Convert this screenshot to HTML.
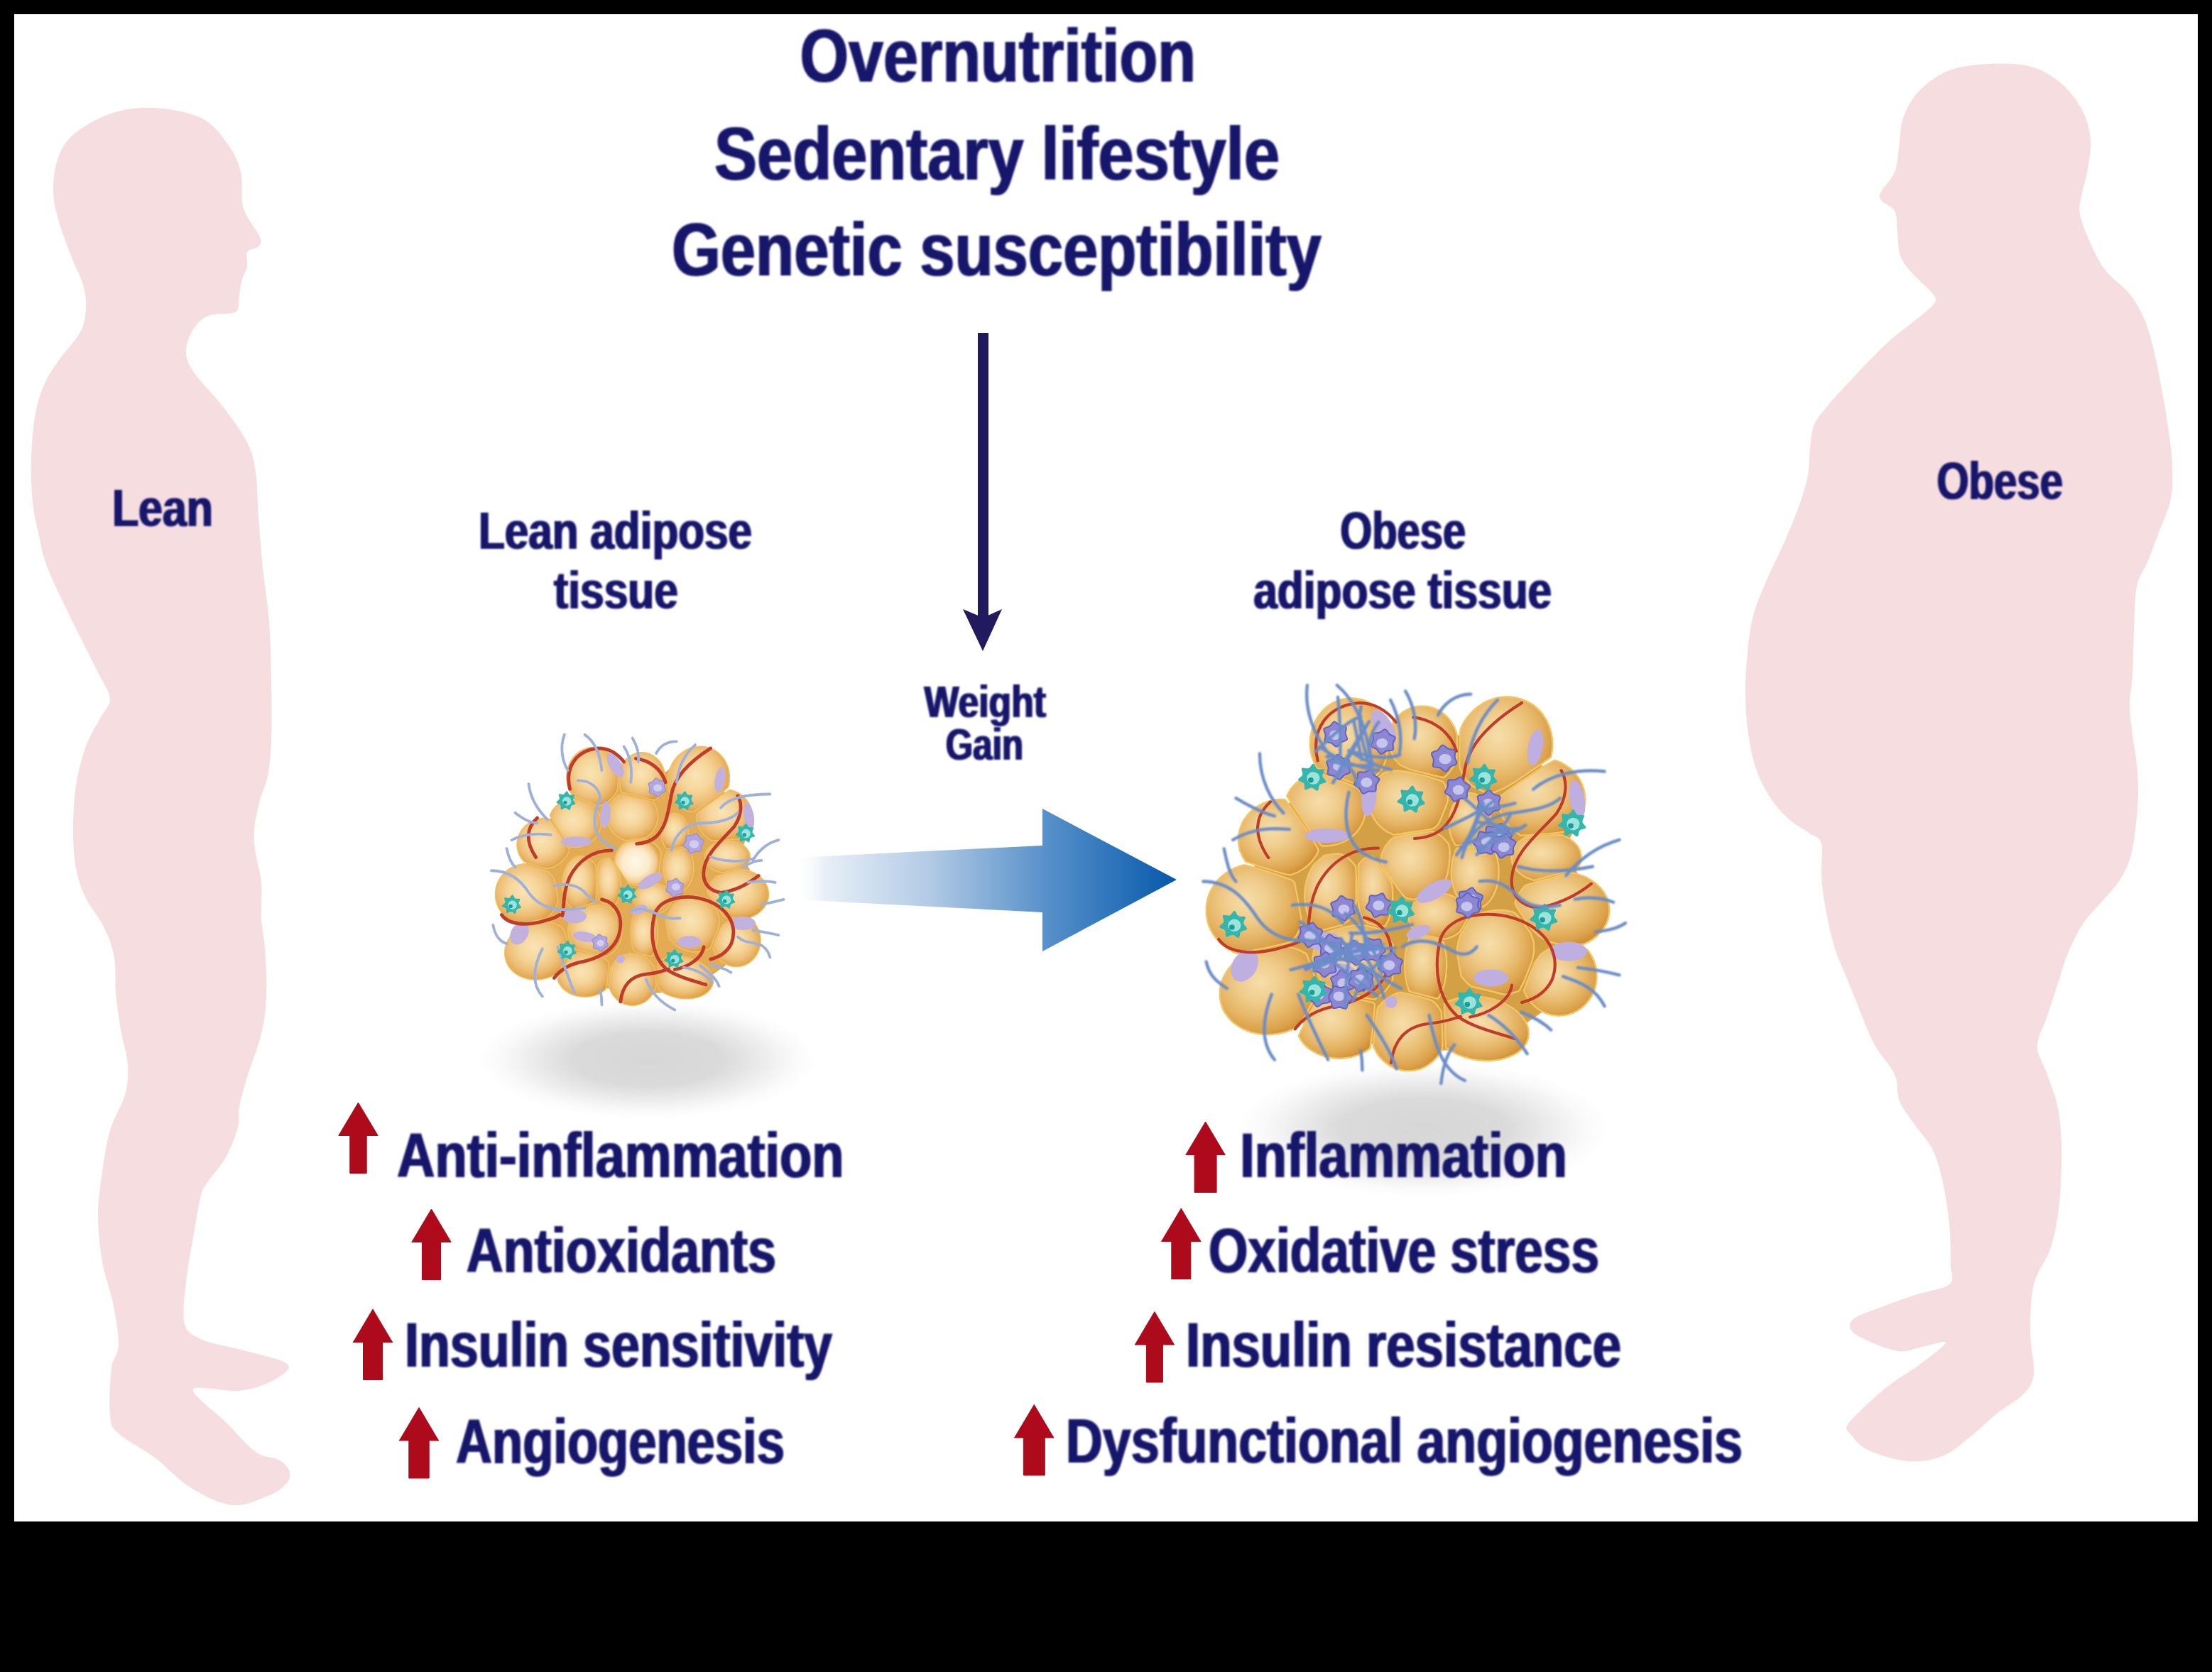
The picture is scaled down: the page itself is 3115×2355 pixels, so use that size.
<!DOCTYPE html>
<html lang="en"><head><meta charset="utf-8"><title>Adipose tissue: lean vs obese</title>
<style>
html,body{margin:0;padding:0;background:#000;}
body{width:3115px;height:2355px;overflow:hidden;}
svg{display:block;}
text{font-family:"Liberation Sans",sans-serif;font-weight:bold;fill:#17126b;}
</style></head><body>
<svg width="3115" height="2355" viewBox="0 0 3115 2355">

<defs>
<radialGradient id="shad" cx="50%" cy="50%" r="50%">
<stop offset="0" stop-color="#787878" stop-opacity=".30"/>
<stop offset=".45" stop-color="#787878" stop-opacity=".27"/>
<stop offset=".7" stop-color="#808080" stop-opacity=".14"/>
<stop offset=".88" stop-color="#888888" stop-opacity=".04"/>
<stop offset="1" stop-color="#909090" stop-opacity="0"/>
</radialGradient>
<linearGradient id="bigarrow" gradientUnits="userSpaceOnUse" x1="1118" y1="0" x2="1657" y2="0">
<stop offset="0" stop-color="#ffffff" stop-opacity="0"/>
<stop offset=".08" stop-color="#e8eff8"/>
<stop offset=".35" stop-color="#b3cbe6"/>
<stop offset=".65" stop-color="#5a92cb"/>
<stop offset=".85" stop-color="#2a72ba"/>
<stop offset="1" stop-color="#0658a8"/>
</linearGradient>
<radialGradient id="cell" cx="46%" cy="44%" r="58%">
<stop offset="0" stop-color="#fae4b6"/>
<stop offset=".4" stop-color="#f6d69b"/>
<stop offset=".7" stop-color="#eec078"/>
<stop offset=".9" stop-color="#e4aa55"/>
<stop offset="1" stop-color="#dc9a40"/>
</radialGradient>
<radialGradient id="cellw" cx="45%" cy="50%" r="52%">
<stop offset="0" stop-color="#fff8ea"/>
<stop offset=".55" stop-color="#fcebcb"/>
<stop offset=".85" stop-color="#f2cc8c"/>
<stop offset="1" stop-color="#e2a54d"/>
</radialGradient>
<radialGradient id="cello" cx="42%" cy="40%" r="64%">
<stop offset="0" stop-color="#f6deab"/>
<stop offset=".35" stop-color="#f0cd8d"/>
<stop offset=".65" stop-color="#e6b768"/>
<stop offset=".88" stop-color="#dba04a"/>
<stop offset="1" stop-color="#cf8f36"/>
</radialGradient>
<filter id="soft" x="-5%" y="-5%" width="110%" height="110%"><feGaussianBlur stdDeviation="1.6"/></filter>
<filter id="soft2" x="-5%" y="-5%" width="110%" height="110%"><feGaussianBlur stdDeviation="2"/></filter>
<filter id="tsoft" x="-3%" y="-15%" width="106%" height="130%"><feMorphology operator="dilate" radius="1 0"/><feGaussianBlur stdDeviation="0.8"/></filter>
</defs>
<rect x="0" y="0" width="3115" height="2355" fill="#000"/>
<rect x="20" y="20" width="3075" height="2123" fill="#fff"/>
<path d="M218.0,152.0C239.0,153.3 267.7,158.2 285.0,167.0C302.3,175.8 313.0,192.5 322.0,205.0C331.0,217.5 335.8,228.8 339.0,242.0C342.2,255.2 339.5,273.5 341.0,284.0C342.5,294.5 343.8,296.7 348.0,305.0C352.2,313.3 363.3,327.0 366.0,334.0C368.7,341.0 367.0,343.5 364.0,347.0C361.0,350.5 350.7,350.2 348.0,355.0C345.3,359.8 349.2,369.7 348.0,376.0C346.8,382.3 342.8,386.5 341.0,393.0C339.2,399.5 338.0,408.0 337.0,415.0C336.0,422.0 336.7,430.7 335.0,435.0C333.3,439.3 334.0,439.3 327.0,441.0C320.0,442.7 302.2,441.2 293.0,445.0C283.8,448.8 277.2,455.8 272.0,464.0C266.8,472.2 262.0,484.2 262.0,494.0C262.0,503.8 263.3,509.8 272.0,523.0C280.7,536.2 301.3,556.3 314.0,573.0C326.7,589.7 340.3,607.7 348.0,623.0C355.7,638.3 357.3,647.5 360.0,665.0C362.7,682.5 362.3,705.5 364.0,728.0C365.7,750.5 367.5,775.3 370.0,800.0C372.5,824.7 377.0,849.5 379.0,876.0C381.0,902.5 381.5,931.2 382.0,959.0C382.5,986.8 382.8,1020.7 382.0,1043.0C381.2,1065.3 379.7,1079.0 377.0,1093.0C374.3,1107.0 369.2,1114.3 366.0,1127.0C362.8,1139.7 359.0,1156.5 358.0,1169.0C357.0,1181.5 358.3,1189.5 360.0,1202.0C361.7,1214.5 366.7,1228.7 368.0,1244.0C369.3,1259.3 367.2,1278.7 368.0,1294.0C368.8,1309.3 371.8,1318.5 373.0,1336.0C374.2,1353.5 375.7,1379.7 375.0,1399.0C374.3,1418.3 373.5,1432.3 369.0,1452.0C364.5,1471.7 353.3,1499.2 348.0,1517.0C342.7,1534.8 339.2,1547.2 337.0,1559.0C334.8,1570.8 338.2,1576.2 335.0,1588.0C331.8,1599.8 325.0,1617.3 318.0,1630.0C311.0,1642.7 298.8,1655.0 293.0,1664.0C287.2,1673.0 286.5,1670.8 283.0,1684.0C279.5,1697.2 275.5,1722.7 272.0,1743.0C268.5,1763.3 264.0,1785.7 262.0,1806.0C260.0,1826.3 256.2,1851.5 260.0,1865.0C263.8,1878.5 272.5,1881.2 285.0,1887.0C297.5,1892.8 318.3,1895.7 335.0,1900.0C351.7,1904.3 373.5,1909.5 385.0,1913.0C396.5,1916.5 400.8,1918.0 404.0,1921.0C407.2,1924.0 408.5,1926.5 404.0,1931.0C399.5,1935.5 388.5,1943.3 377.0,1948.0C365.5,1952.7 352.5,1957.5 335.0,1959.0C317.5,1960.5 274.8,1949.7 272.0,1957.0C269.2,1964.3 303.3,1988.3 318.0,2003.0C332.7,2017.7 347.3,2036.0 360.0,2045.0C372.7,2054.0 386.0,2052.2 394.0,2057.0C402.0,2061.8 406.7,2068.3 408.0,2074.0C409.3,2079.7 407.2,2085.5 402.0,2091.0C396.8,2096.5 389.5,2102.2 377.0,2107.0C364.5,2111.8 345.2,2122.0 327.0,2120.0C308.8,2118.0 286.2,2106.2 268.0,2095.0C249.8,2083.8 234.8,2065.7 218.0,2053.0C201.2,2040.3 177.5,2028.8 167.0,2019.0C156.5,2009.2 156.7,2009.3 155.0,1994.0C153.3,1978.7 155.0,1943.7 157.0,1927.0C159.0,1910.3 166.7,1909.3 167.0,1894.0C167.3,1878.7 162.8,1854.5 159.0,1835.0C155.2,1815.5 147.5,1797.8 144.0,1777.0C140.5,1756.2 138.0,1731.0 138.0,1710.0C138.0,1689.0 141.2,1670.7 144.0,1651.0C146.8,1631.3 149.7,1610.2 155.0,1592.0C160.3,1573.8 171.8,1557.3 176.0,1542.0C180.2,1526.7 181.0,1515.3 180.0,1500.0C179.0,1484.7 172.8,1466.8 170.0,1450.0C167.2,1433.2 164.5,1415.8 163.0,1399.0C161.5,1382.2 163.7,1364.3 161.0,1349.0C158.3,1333.7 153.7,1321.0 147.0,1307.0C140.3,1293.0 127.7,1279.0 121.0,1265.0C114.3,1251.0 110.0,1239.0 107.0,1223.0C104.0,1207.0 103.0,1188.5 103.0,1169.0C103.0,1149.5 104.0,1125.7 107.0,1106.0C110.0,1086.3 115.2,1067.0 121.0,1051.0C126.8,1035.0 136.3,1021.2 142.0,1010.0C147.7,998.8 155.7,994.5 155.0,984.0C154.3,973.5 147.2,965.8 138.0,947.0C128.8,928.2 111.8,895.5 100.0,871.0C88.2,846.5 74.5,819.3 67.0,800.0C59.5,780.7 58.5,770.5 55.0,755.0C51.5,739.5 47.8,725.5 46.0,707.0C44.2,688.5 43.3,664.8 44.0,644.0C44.7,623.2 46.8,599.3 50.0,582.0C53.2,564.7 57.3,552.7 63.0,540.0C68.7,527.3 75.7,518.0 84.0,506.0C92.3,494.0 106.8,479.8 113.0,468.0C119.2,456.2 120.3,446.2 121.0,435.0C121.7,423.8 120.5,413.5 117.0,401.0C113.5,388.5 105.8,375.3 100.0,360.0C94.2,344.7 86.2,324.5 82.0,309.0C77.8,293.5 75.0,281.5 75.0,267.0C75.0,252.5 77.0,235.2 82.0,222.0C87.0,208.8 92.2,198.5 105.0,188.0C117.8,177.5 140.2,165.0 159.0,159.0C177.8,153.0 197.0,150.7 218.0,152.0Z" fill="#f6dde0"/>
<path d="M2802.0,90.0C2782.5,91.0 2759.8,93.3 2743.0,100.0C2726.2,106.7 2711.5,118.8 2701.0,130.0C2690.5,141.2 2684.5,153.8 2680.0,167.0C2675.5,180.2 2676.0,196.3 2674.0,209.0C2672.0,221.7 2672.2,232.8 2668.0,243.0C2663.8,253.2 2652.2,263.5 2649.0,270.0C2645.8,276.5 2645.8,277.5 2649.0,282.0C2652.2,286.5 2664.2,289.7 2668.0,297.0C2671.8,304.3 2670.7,315.5 2672.0,326.0C2673.3,336.5 2672.5,350.2 2676.0,360.0C2679.5,369.8 2685.3,376.0 2693.0,385.0C2700.7,394.0 2716.8,407.0 2722.0,414.0C2727.2,421.0 2727.5,421.3 2724.0,427.0C2720.5,432.7 2711.7,439.0 2701.0,448.0C2690.3,457.0 2673.8,468.5 2660.0,481.0C2646.2,493.5 2632.0,508.3 2618.0,523.0C2604.0,537.7 2586.5,556.5 2576.0,569.0C2565.5,581.5 2559.5,587.5 2555.0,598.0C2550.5,608.5 2550.5,620.2 2549.0,632.0C2547.5,643.8 2548.5,655.8 2546.0,669.0C2543.5,682.2 2539.5,695.3 2534.0,711.0C2528.5,726.7 2520.7,745.3 2513.0,763.0C2505.3,780.7 2495.3,799.7 2488.0,817.0C2480.7,834.3 2473.5,850.2 2469.0,867.0C2464.5,883.8 2462.8,900.5 2461.0,918.0C2459.2,935.5 2458.0,954.0 2458.0,972.0C2458.0,990.0 2458.8,1008.5 2461.0,1026.0C2463.2,1043.5 2466.2,1061.5 2471.0,1077.0C2475.8,1092.5 2482.3,1106.5 2490.0,1119.0C2497.7,1131.5 2507.5,1143.0 2517.0,1152.0C2526.5,1161.0 2539.0,1167.0 2547.0,1173.0C2555.0,1179.0 2562.0,1177.5 2565.0,1188.0C2568.0,1198.5 2563.8,1219.7 2565.0,1236.0C2566.2,1252.3 2568.8,1269.3 2572.0,1286.0C2575.2,1302.7 2579.2,1320.7 2584.0,1336.0C2588.8,1351.3 2596.5,1366.8 2601.0,1378.0C2605.5,1389.2 2604.7,1387.7 2611.0,1403.0C2617.3,1418.3 2629.5,1451.7 2639.0,1470.0C2648.5,1488.3 2662.0,1499.5 2668.0,1513.0C2674.0,1526.5 2670.2,1539.0 2675.0,1551.0C2679.8,1563.0 2689.3,1573.8 2697.0,1585.0C2704.7,1596.2 2714.7,1605.3 2721.0,1618.0C2727.3,1630.7 2731.0,1643.5 2735.0,1661.0C2739.0,1678.5 2743.0,1703.0 2745.0,1723.0C2747.0,1743.0 2747.0,1766.7 2747.0,1781.0C2747.0,1795.3 2753.3,1801.8 2745.0,1809.0C2736.7,1816.2 2713.8,1818.3 2697.0,1824.0C2680.2,1829.7 2658.3,1837.5 2644.0,1843.0C2629.7,1848.5 2617.3,1852.2 2611.0,1857.0C2604.7,1861.8 2603.7,1867.2 2606.0,1872.0C2608.3,1876.8 2613.8,1880.8 2625.0,1886.0C2636.2,1891.2 2658.7,1901.3 2673.0,1903.0C2687.3,1904.7 2699.8,1898.0 2711.0,1896.0C2722.2,1894.0 2740.8,1887.0 2740.0,1891.0C2739.2,1895.0 2719.7,1909.7 2706.0,1920.0C2692.3,1930.3 2672.3,1941.8 2658.0,1953.0C2643.7,1964.2 2629.5,1977.8 2620.0,1987.0C2610.5,1996.2 2603.3,2002.5 2601.0,2008.0C2598.7,2013.5 2601.2,2014.3 2606.0,2020.0C2610.8,2025.7 2616.5,2035.7 2630.0,2042.0C2643.5,2048.3 2669.5,2056.5 2687.0,2058.0C2704.5,2059.5 2720.7,2056.5 2735.0,2051.0C2749.3,2045.5 2760.2,2035.0 2773.0,2025.0C2785.8,2015.0 2799.2,2001.3 2812.0,1991.0C2824.8,1980.7 2841.3,1972.5 2850.0,1963.0C2858.7,1953.5 2862.5,1948.5 2864.0,1934.0C2865.5,1919.5 2859.0,1896.8 2859.0,1876.0C2859.0,1855.2 2859.2,1828.8 2864.0,1809.0C2868.8,1789.2 2882.0,1776.0 2888.0,1757.0C2894.0,1738.0 2897.5,1718.2 2900.0,1695.0C2902.5,1671.8 2903.3,1640.3 2903.0,1618.0C2902.7,1595.7 2901.3,1578.5 2898.0,1561.0C2894.7,1543.5 2887.8,1527.5 2883.0,1513.0C2878.2,1498.5 2869.0,1487.7 2869.0,1474.0C2869.0,1460.3 2877.8,1446.8 2883.0,1431.0C2888.2,1415.2 2895.3,1393.3 2900.0,1379.0C2904.7,1364.7 2905.7,1357.7 2911.0,1345.0C2916.3,1332.3 2924.3,1315.0 2932.0,1303.0C2939.7,1291.0 2948.7,1282.8 2957.0,1273.0C2965.3,1263.2 2975.0,1254.3 2982.0,1244.0C2989.0,1233.7 2994.8,1223.5 2999.0,1211.0C3003.2,1198.5 3005.0,1184.3 3007.0,1169.0C3009.0,1153.7 3010.7,1134.3 3011.0,1119.0C3011.3,1103.7 3010.3,1091.0 3009.0,1077.0C3007.7,1063.0 3004.7,1049.0 3003.0,1035.0C3001.3,1021.0 2999.0,1007.0 2999.0,993.0C2999.0,979.0 3002.0,968.5 3003.0,951.0C3004.0,933.5 3004.0,908.8 3005.0,888.0C3006.0,867.2 3005.8,842.0 3009.0,826.0C3012.2,810.0 3018.8,804.7 3024.0,792.0C3029.2,779.3 3034.5,764.8 3040.0,750.0C3045.5,735.2 3053.8,718.5 3057.0,703.0C3060.2,687.5 3059.3,671.7 3059.0,657.0C3058.7,642.3 3057.3,632.5 3055.0,615.0C3052.7,597.5 3048.8,573.0 3045.0,552.0C3041.2,531.0 3036.3,506.3 3032.0,489.0C3027.7,471.7 3024.5,460.5 3019.0,448.0C3013.5,435.5 3008.0,425.2 2999.0,414.0C2990.0,402.8 2974.2,392.8 2965.0,381.0C2955.8,369.2 2950.0,356.3 2944.0,343.0C2938.0,329.7 2931.0,312.8 2929.0,301.0C2927.0,289.2 2930.2,282.5 2932.0,272.0C2933.8,261.5 2938.0,250.7 2940.0,238.0C2942.0,225.3 2945.3,209.8 2944.0,196.0C2942.7,182.2 2939.0,168.2 2932.0,155.0C2925.0,141.8 2914.0,127.2 2902.0,117.0C2890.0,106.8 2876.7,98.5 2860.0,94.0C2843.3,89.5 2821.5,89.0 2802.0,90.0Z" fill="#f6dde0"/>
<ellipse cx="912" cy="1492" rx="238" ry="84" fill="url(#shad)"/>
<ellipse cx="2005" cy="1590" rx="262" ry="96" fill="url(#shad)"/>
<rect x="1377" y="469" width="15" height="405" fill="#221a5e"/>
<path d="M1356,858 L1384.5,870 L1411,858 L1384,917 Z" fill="#221a5e"/>
<path d="M1118,1208 L1468,1191 L1468,1139 L1657,1239 L1468,1340 L1468,1285 L1118,1267 Z" fill="url(#bigarrow)"/>
<polygon fill="#ad0a1c" stroke="#ad0a1c" stroke-width="1" stroke-linejoin="round" points="504.5,1553.0 529.8,1595.5 532.2,1599.5 516.2,1599.5 516.2,1652.5 492.8,1652.5 492.8,1599.5 476.8,1599.5 479.2,1595.5"/>
<polygon fill="#ad0a1c" stroke="#ad0a1c" stroke-width="1" stroke-linejoin="round" points="607.5,1703.0 632.8,1745.5 635.2,1749.5 620.5,1749.5 620.5,1802.5 594.5,1802.5 594.5,1749.5 579.8,1749.5 582.2,1745.5"/>
<polygon fill="#ad0a1c" stroke="#ad0a1c" stroke-width="1" stroke-linejoin="round" points="525.0,1844.0 550.2,1886.5 552.8,1890.5 538.5,1890.5 538.5,1943.5 511.5,1943.5 511.5,1890.5 497.2,1890.5 499.8,1886.5"/>
<polygon fill="#ad0a1c" stroke="#ad0a1c" stroke-width="1" stroke-linejoin="round" points="590.0,1982.5 615.2,2025.0 617.8,2029.0 604.2,2029.0 604.2,2082.0 575.8,2082.0 575.8,2029.0 562.2,2029.0 564.8,2025.0"/>
<polygon fill="#ad0a1c" stroke="#ad0a1c" stroke-width="1" stroke-linejoin="round" points="1697.6,1580.0 1722.8,1622.5 1725.3,1626.5 1713.1,1626.5 1713.1,1679.5 1682.1,1679.5 1682.1,1626.5 1669.8,1626.5 1672.3,1622.5"/>
<polygon fill="#ad0a1c" stroke="#ad0a1c" stroke-width="1" stroke-linejoin="round" points="1663.3,1702.0 1688.5,1744.5 1691.0,1748.5 1676.8,1748.5 1676.8,1801.5 1649.8,1801.5 1649.8,1748.5 1635.5,1748.5 1638.0,1744.5"/>
<polygon fill="#ad0a1c" stroke="#ad0a1c" stroke-width="1" stroke-linejoin="round" points="1625.9,1847.5 1651.2,1890.0 1653.7,1894.0 1637.4,1894.0 1637.4,1947.0 1614.4,1947.0 1614.4,1894.0 1598.2,1894.0 1600.7,1890.0"/>
<polygon fill="#ad0a1c" stroke="#ad0a1c" stroke-width="1" stroke-linejoin="round" points="1456.3,1978.5 1481.5,2021.0 1484.0,2025.0 1471.3,2025.0 1471.3,2078.0 1441.3,2078.0 1441.3,2025.0 1428.5,2025.0 1431.0,2021.0"/>
<g transform="translate(680,1030) scale(0.23929)" filter="url(#soft)">
<path d="M545.9,367.1C567.6,325.2 555.2,217.5 583.1,181.1C611.0,144.7 671.4,145.4 713.3,148.5C755.1,151.6 795.5,194.3 834.2,199.7C873.0,205.1 907.0,173.3 945.8,181.1C984.5,188.8 1031.0,249.3 1066.7,246.2C1102.4,243.1 1119.4,178.8 1159.7,162.5C1200.0,146.2 1268.2,131.5 1308.5,148.5C1348.8,165.6 1381.3,223.7 1401.5,264.8C1421.7,305.9 1407.7,364.0 1429.4,395.0C1451.1,426.0 1510.0,419.8 1531.7,450.8C1553.4,481.8 1561.1,537.6 1559.6,581.0C1558.0,624.4 1517.8,664.7 1522.4,711.2C1527.1,757.7 1570.5,813.5 1587.5,860.0C1604.5,906.5 1627.8,948.4 1624.7,990.2C1621.6,1032.0 1576.7,1064.6 1568.9,1111.1C1561.2,1157.6 1596.8,1228.9 1578.2,1269.2C1559.6,1309.5 1502.3,1321.9 1457.3,1352.9C1412.4,1383.9 1355.0,1427.3 1308.5,1455.2C1262.0,1483.1 1229.5,1506.4 1178.3,1520.3C1127.1,1534.3 1051.2,1532.7 1001.6,1538.9C952.0,1545.1 922.6,1562.2 880.7,1557.5C838.9,1552.8 800.1,1518.8 750.5,1511.0C700.9,1503.2 629.6,1525.0 583.1,1511.0C536.6,1497.0 519.5,1444.4 471.5,1427.3C423.4,1410.3 341.3,1430.4 294.8,1408.7C248.3,1387.0 206.5,1342.0 192.5,1297.1C178.5,1252.1 219.6,1190.2 211.1,1139.0C202.6,1087.8 149.1,1041.4 141.3,990.2C133.6,939.1 145.2,866.2 164.6,832.1C184.0,798.0 243.7,815.1 257.6,785.6C271.6,756.1 240.5,695.7 248.3,655.4C256.0,615.1 273.1,568.6 304.1,543.8C335.1,519.0 409.5,525.2 434.3,506.6C459.1,488.0 434.3,455.4 452.9,432.2C471.5,408.9 524.2,408.9 545.9,367.1Z" fill="#e3ab52" stroke="#e0a44c" stroke-width="8"/>
<path d="M441,993 L440,999 L439,1004 L437,1009 L436,1015 L433,1021 L431,1026 L429,1032 L427,1037 L424,1042 L421,1047 L418,1052 L415,1057 L411,1063 L408,1067 L404,1072 L400,1076 L396,1081 L392,1085 L388,1089 L385,1092 L381,1096 L369,1100 L347,1106 L316,1113 L272,1122 L243,1128 L222,1133 L212,1134 L212,1134 L210,1134 L207,1133 L202,1131 L196,1129 L191,1127 L185,1125 L180,1123 L174,1120 L169,1117 L164,1114 L159,1111 L153,1108 L148,1105 L144,1101 L139,1097 L134,1093 L130,1089 L126,1085 L122,1081 L117,1076 L114,1072 L110,1067 L107,1063 L103,1057 L100,1052 L97,1047 L94,1042 L91,1037 L89,1032 L87,1026 L84,1021 L82,1015 L81,1009 L79,1004 L78,998 L76,992 L76,986 L75,980 L74,975 L74,968 L74,963 L74,957 L74,951 L74,945 L75,939 L76,933 L76,928 L78,922 L79,916 L81,910 L82,905 L84,899 L87,894 L89,888 L91,883 L94,877 L97,872 L100,867 L103,862 L107,857 L110,853 L114,848 L117,844 L122,839 L126,835 L130,830 L134,827 L139,822 L144,819 L148,815 L153,812 L159,808 L164,805 L169,802 L174,800 L180,797 L185,795 L191,792 L196,790 L202,788 L208,787 L214,785 L220,784 L226,783 L231,782 L235,781 L238,781 L241,781 L251,783 L270,789 L295,797 L333,810 L359,818 L377,825 L386,829 L388,830 L390,832 L393,835 L396,839 L400,844 L404,848 L408,853 L411,857 L415,862 L417,866 L419,869 L421,871 L421,872 L423,880 L426,894 L430,914 L435,944 L439,966 L441,982Z" fill="url(#cell)" stroke="#f0c064" stroke-width="7" stroke-linejoin="round"/>
<path d="M510,697 L509,699 L508,702 L507,705 L506,709 L503,714 L501,718 L499,723 L497,727 L494,732 L491,736 L489,740 L486,744 L482,748 L479,752 L476,756 L472,759 L468,763 L465,767 L461,770 L457,773 L453,777 L449,779 L444,782 L440,785 L435,788 L431,790 L426,793 L422,795 L417,797 L412,799 L407,801 L402,802 L397,804 L392,805 L387,806 L382,807 L377,808 L373,809 L370,809 L368,809 L367,809 L360,807 L344,802 L322,795 L290,784 L268,777 L252,771 L244,768 L242,766 L240,764 L238,762 L235,759 L232,755 L229,751 L226,747 L224,743 L221,739 L219,735 L216,730 L214,726 L212,721 L210,717 L209,712 L207,708 L206,703 L205,698 L204,694 L203,689 L202,684 L202,679 L201,674 L201,670 L201,664 L201,660 L202,655 L202,650 L203,645 L204,640 L205,635 L206,631 L207,626 L209,621 L210,616 L212,612 L214,607 L216,602 L219,598 L221,594 L224,589 L226,585 L229,581 L232,577 L235,573 L239,569 L242,565 L245,561 L249,557 L253,554 L257,551 L261,548 L265,544 L269,541 L273,538 L278,536 L282,533 L287,530 L291,528 L296,526 L301,524 L306,522 L311,520 L315,519 L321,517 L325,516 L331,515 L335,514 L341,513 L346,512 L351,511 L356,511 L362,511 L367,511 L372,511 L376,511 L382,512 L393,522 L410,545 L434,579 L466,628 L488,662 L503,685Z" fill="url(#cell)" stroke="#f0c064" stroke-width="7" stroke-linejoin="round"/>
<path d="M490,1335 L471,1371 L459,1396 L450,1413 L445,1421 L444,1421 L443,1422 L439,1424 L435,1427 L429,1431 L424,1434 L418,1437 L412,1439 L406,1442 L400,1445 L394,1447 L388,1449 L381,1451 L375,1453 L369,1455 L363,1456 L356,1458 L350,1459 L343,1460 L337,1461 L330,1461 L324,1462 L317,1462 L311,1462 L304,1462 L298,1462 L291,1461 L285,1461 L278,1460 L272,1459 L266,1458 L260,1456 L253,1455 L248,1453 L242,1451 L236,1449 L230,1447 L225,1444 L219,1442 L214,1439 L208,1436 L203,1433 L198,1430 L194,1427 L188,1423 L184,1419 L180,1416 L175,1412 L171,1407 L167,1403 L164,1399 L160,1395 L156,1390 L153,1385 L150,1381 L148,1376 L145,1371 L142,1366 L140,1361 L138,1356 L136,1350 L135,1345 L133,1340 L132,1335 L131,1329 L130,1323 L129,1318 L129,1313 L129,1307 L129,1301 L129,1296 L130,1290 L130,1284 L131,1279 L132,1273 L134,1268 L135,1262 L137,1256 L139,1251 L141,1246 L143,1240 L146,1235 L149,1229 L151,1224 L155,1219 L158,1214 L161,1209 L165,1204 L169,1199 L173,1195 L177,1190 L181,1186 L186,1181 L191,1177 L195,1173 L200,1169 L206,1165 L211,1161 L216,1157 L221,1154 L227,1150 L232,1148 L236,1145 L240,1143 L243,1142 L251,1140 L265,1136 L284,1132 L311,1126 L330,1123 L345,1120 L353,1119 L357,1119 L361,1119 L366,1119 L371,1120 L378,1121 L384,1122 L391,1123 L396,1125 L403,1126 L409,1128 L415,1130 L420,1132 L427,1134 L432,1137 L437,1139 L443,1142 L448,1145 L453,1148 L458,1151 L462,1154 L467,1157 L472,1166 L480,1183 L488,1207 L500,1240 L504,1271 L501,1303Z" fill="url(#cell)" stroke="#f0c064" stroke-width="7" stroke-linejoin="round"/>
<path d="M723,1518 L720,1521 L717,1524 L714,1526 L710,1529 L706,1532 L702,1535 L697,1537 L693,1540 L688,1542 L684,1545 L679,1547 L675,1549 L670,1551 L665,1553 L660,1554 L655,1556 L650,1557 L645,1558 L640,1560 L635,1560 L629,1561 L624,1562 L618,1563 L613,1563 L607,1563 L602,1563 L597,1563 L592,1563 L586,1563 L581,1563 L576,1562 L570,1561 L565,1560 L560,1560 L555,1558 L550,1557 L544,1556 L539,1554 L534,1553 L530,1551 L524,1549 L520,1547 L515,1545 L511,1542 L506,1540 L502,1537 L498,1535 L494,1532 L489,1529 L485,1526 L482,1523 L478,1520 L474,1517 L471,1513 L468,1510 L465,1507 L462,1503 L459,1499 L456,1495 L454,1492 L451,1488 L449,1484 L447,1480 L445,1476 L443,1471 L442,1468 L441,1465 L440,1463 L440,1462 L444,1453 L453,1434 L466,1408 L486,1370 L499,1344 L509,1327 L514,1318 L515,1317 L518,1316 L521,1315 L524,1313 L530,1311 L534,1310 L539,1308 L544,1306 L550,1305 L554,1304 L558,1303 L561,1302 L565,1302 L575,1303 L595,1307 L621,1313 L660,1322 L686,1329 L705,1333 L714,1336 L715,1336 L716,1338 L718,1339 L721,1342 L725,1346 L728,1349 L732,1352 L735,1356 L738,1359 L740,1362 L742,1364 L743,1365 L743,1366 L742,1375 L740,1393 L737,1420 L733,1460 L730,1488 L726,1508Z" fill="url(#cell)" stroke="#f0c064" stroke-width="7" stroke-linejoin="round"/>
<path d="M1019,1498 L1019,1499 L1018,1501 L1017,1503 L1016,1507 L1015,1512 L1013,1517 L1011,1521 L1009,1526 L1007,1531 L1005,1535 L1003,1539 L1000,1543 L998,1548 L995,1552 L992,1556 L989,1560 L986,1564 L983,1567 L980,1571 L976,1574 L972,1578 L969,1581 L965,1584 L962,1587 L957,1590 L954,1592 L950,1595 L946,1597 L941,1599 L937,1601 L933,1603 L928,1605 L924,1607 L919,1608 L915,1609 L910,1610 L905,1612 L901,1612 L896,1613 L892,1613 L887,1614 L882,1614 L878,1614 L873,1614 L868,1613 L864,1613 L859,1612 L855,1612 L850,1610 L845,1609 L841,1608 L837,1607 L832,1605 L828,1603 L823,1601 L819,1599 L815,1597 L811,1595 L807,1592 L803,1590 L799,1587 L795,1584 L791,1581 L788,1578 L784,1574 L781,1571 L777,1567 L774,1564 L771,1560 L768,1556 L765,1552 L763,1548 L760,1543 L757,1539 L755,1535 L753,1531 L751,1526 L749,1521 L747,1517 L745,1512 L744,1507 L743,1503 L742,1500 L741,1497 L741,1495 L741,1488 L742,1475 L744,1457 L747,1431 L749,1412 L751,1399 L752,1391 L754,1388 L756,1385 L758,1381 L760,1377 L763,1373 L765,1369 L768,1365 L771,1361 L774,1357 L777,1354 L781,1350 L784,1347 L788,1343 L791,1340 L795,1337 L799,1334 L803,1331 L807,1329 L811,1326 L815,1324 L819,1321 L823,1319 L828,1317 L832,1316 L837,1314 L841,1313 L845,1311 L850,1310 L855,1309 L859,1308 L863,1308 L867,1307 L870,1307 L877,1308 L888,1310 L902,1314 L922,1319 L935,1322 L945,1325 L950,1326 L950,1326 L952,1327 L954,1329 L957,1331 L962,1334 L965,1337 L969,1340 L972,1343 L976,1347 L980,1350 L983,1354 L986,1357 L989,1361 L992,1365 L995,1369 L998,1373 L1000,1377 L1003,1381 L1005,1386 L1007,1390 L1009,1395 L1011,1399 L1013,1403 L1014,1406 L1015,1409 L1016,1416 L1016,1428 L1017,1444 L1018,1466 L1019,1482 L1019,1493Z" fill="url(#cell)" stroke="#f0c064" stroke-width="7" stroke-linejoin="round"/>
<path d="M1353,1488 L1352,1492 L1350,1496 L1349,1500 L1347,1503 L1345,1507 L1343,1511 L1341,1514 L1339,1517 L1336,1521 L1333,1524 L1331,1527 L1328,1530 L1324,1534 L1321,1537 L1317,1539 L1314,1542 L1309,1545 L1306,1547 L1301,1550 L1297,1552 L1292,1555 L1288,1557 L1283,1559 L1279,1561 L1273,1563 L1268,1564 L1263,1566 L1258,1567 L1252,1568 L1247,1570 L1242,1571 L1236,1572 L1230,1572 L1225,1573 L1219,1574 L1213,1574 L1207,1574 L1201,1574 L1195,1574 L1190,1574 L1183,1574 L1177,1574 L1171,1573 L1166,1572 L1159,1572 L1153,1571 L1147,1570 L1142,1568 L1135,1567 L1130,1566 L1124,1564 L1118,1562 L1112,1561 L1107,1559 L1101,1557 L1096,1555 L1090,1552 L1085,1550 L1079,1547 L1074,1545 L1069,1542 L1064,1539 L1059,1536 L1055,1534 L1050,1530 L1046,1528 L1042,1525 L1039,1522 L1036,1519 L1033,1509 L1031,1488 L1029,1459 L1028,1417 L1028,1388 L1029,1368 L1031,1357 L1034,1355 L1038,1353 L1042,1350 L1046,1348 L1051,1346 L1055,1344 L1060,1342 L1064,1340 L1070,1338 L1075,1336 L1080,1335 L1085,1333 L1091,1332 L1096,1331 L1101,1330 L1107,1329 L1113,1328 L1118,1327 L1124,1327 L1130,1326 L1136,1326 L1142,1326 L1148,1326 L1153,1326 L1160,1326 L1166,1327 L1172,1327 L1177,1328 L1184,1329 L1190,1330 L1196,1331 L1201,1332 L1208,1333 L1213,1335 L1219,1336 L1225,1338 L1231,1340 L1236,1342 L1242,1344 L1247,1346 L1253,1348 L1258,1350 L1263,1353 L1268,1355 L1274,1358 L1279,1361 L1283,1364 L1288,1367 L1293,1370 L1297,1373 L1302,1376 L1306,1379 L1310,1383 L1314,1386 L1317,1390 L1321,1393 L1325,1397 L1328,1401 L1331,1405 L1334,1408 L1336,1412 L1339,1416 L1341,1420 L1343,1424 L1346,1428 L1347,1432 L1349,1436 L1350,1440 L1352,1444 L1353,1448 L1354,1452 L1354,1456 L1355,1460 L1355,1464 L1355,1468 L1355,1472 L1355,1477 L1354,1480 L1354,1484Z" fill="url(#cell)" stroke="#f0c064" stroke-width="7" stroke-linejoin="round"/>
<path d="M1634,1239 L1634,1245 L1633,1250 L1633,1255 L1632,1259 L1631,1265 L1630,1269 L1629,1274 L1627,1279 L1626,1284 L1624,1288 L1622,1293 L1621,1297 L1618,1302 L1616,1307 L1614,1311 L1612,1315 L1609,1320 L1606,1323 L1603,1327 L1600,1331 L1597,1335 L1594,1339 L1591,1342 L1587,1346 L1584,1349 L1580,1352 L1576,1355 L1573,1358 L1569,1361 L1565,1364 L1561,1366 L1557,1369 L1552,1371 L1548,1373 L1544,1375 L1540,1377 L1535,1378 L1531,1380 L1526,1381 L1522,1382 L1517,1383 L1512,1384 L1508,1385 L1503,1385 L1498,1385 L1494,1386 L1489,1386 L1484,1385 L1479,1385 L1475,1385 L1470,1384 L1466,1383 L1461,1382 L1456,1381 L1452,1380 L1448,1378 L1443,1377 L1439,1375 L1434,1373 L1430,1371 L1426,1369 L1422,1366 L1418,1364 L1414,1361 L1410,1358 L1406,1355 L1402,1352 L1399,1349 L1395,1346 L1392,1342 L1388,1339 L1385,1335 L1382,1331 L1379,1327 L1376,1323 L1374,1320 L1371,1315 L1369,1311 L1366,1307 L1364,1302 L1362,1297 L1360,1293 L1358,1289 L1357,1284 L1355,1279 L1358,1267 L1365,1244 L1377,1212 L1395,1167 L1416,1137 L1445,1117 L1478,1109 L1522,1111 L1553,1112 L1574,1114 L1586,1117 L1589,1119 L1591,1122 L1594,1125 L1597,1129 L1600,1133 L1603,1136 L1606,1140 L1609,1144 L1612,1149 L1614,1153 L1616,1157 L1618,1162 L1621,1166 L1622,1171 L1624,1176 L1626,1180 L1627,1185 L1629,1190 L1630,1195 L1631,1199 L1632,1205 L1633,1209 L1633,1214 L1634,1219 L1634,1225 L1634,1229 L1634,1234Z" fill="url(#cell)" stroke="#f0c064" stroke-width="7" stroke-linejoin="round"/>
<path d="M1681,966 L1681,972 L1680,976 L1680,981 L1679,986 L1677,991 L1676,995 L1675,1000 L1673,1005 L1671,1010 L1669,1014 L1667,1018 L1664,1023 L1662,1027 L1659,1031 L1656,1036 L1653,1040 L1649,1044 L1646,1048 L1643,1052 L1639,1055 L1635,1059 L1631,1063 L1627,1066 L1623,1069 L1618,1073 L1613,1076 L1609,1079 L1604,1081 L1599,1084 L1594,1087 L1589,1089 L1584,1091 L1578,1094 L1574,1095 L1570,1097 L1566,1098 L1563,1099 L1554,1099 L1536,1099 L1511,1098 L1476,1097 L1452,1096 L1434,1094 L1424,1093 L1421,1092 L1413,1083 L1400,1066 L1382,1041 L1356,1004 L1339,978 L1327,960 L1322,949 L1322,945 L1323,942 L1323,937 L1324,933 L1326,928 L1327,923 L1328,919 L1330,914 L1332,909 L1334,905 L1336,900 L1339,896 L1341,891 L1344,887 L1347,883 L1350,879 L1354,875 L1357,871 L1360,867 L1364,864 L1368,860 L1371,857 L1374,855 L1375,853 L1376,853 L1385,850 L1404,845 L1431,837 L1470,827 L1498,820 L1520,815 L1533,813 L1539,814 L1545,816 L1551,817 L1556,818 L1562,820 L1568,821 L1573,823 L1578,825 L1584,828 L1589,830 L1594,832 L1599,835 L1604,838 L1609,840 L1613,843 L1618,846 L1623,850 L1627,853 L1631,856 L1635,860 L1639,864 L1643,867 L1646,871 L1649,875 L1653,879 L1656,883 L1659,887 L1662,891 L1664,896 L1667,900 L1669,905 L1671,909 L1673,914 L1675,919 L1676,923 L1677,928 L1679,933 L1680,938 L1680,942 L1681,947 L1681,952 L1682,957 L1682,962Z" fill="url(#cell)" stroke="#f0c064" stroke-width="7" stroke-linejoin="round"/>
<path d="M1572,744 L1572,748 L1571,751 L1571,754 L1570,757 L1569,760 L1568,763 L1567,766 L1566,769 L1564,772 L1563,775 L1561,778 L1559,780 L1557,783 L1555,786 L1553,789 L1551,791 L1549,794 L1539,798 L1522,803 L1497,811 L1462,820 L1438,827 L1420,831 L1411,833 L1409,832 L1406,832 L1403,831 L1399,830 L1395,829 L1391,828 L1387,827 L1383,826 L1379,824 L1375,823 L1372,821 L1368,820 L1364,818 L1361,816 L1357,814 L1354,812 L1351,810 L1348,808 L1345,806 L1342,804 L1339,801 L1336,799 L1333,796 L1331,794 L1328,791 L1326,789 L1324,786 L1322,783 L1320,780 L1318,778 L1317,775 L1315,772 L1314,769 L1312,766 L1311,763 L1310,760 L1309,757 L1309,754 L1308,751 L1308,748 L1307,744 L1307,741 L1307,738 L1307,735 L1308,732 L1308,729 L1309,726 L1309,723 L1310,719 L1311,716 L1312,713 L1314,711 L1315,707 L1317,705 L1318,702 L1320,699 L1322,696 L1324,693 L1326,691 L1328,688 L1331,685 L1333,683 L1336,680 L1339,678 L1342,675 L1345,673 L1348,671 L1351,669 L1354,667 L1357,665 L1361,663 L1364,661 L1368,659 L1372,658 L1375,656 L1379,655 L1383,653 L1386,652 L1389,652 L1390,651 L1391,651 L1396,650 L1404,650 L1416,648 L1434,647 L1447,646 L1457,646 L1464,646 L1468,646 L1472,647 L1476,648 L1480,649 L1484,650 L1488,651 L1492,652 L1496,653 L1500,655 L1504,656 L1508,658 L1511,659 L1515,661 L1519,663 L1522,665 L1525,667 L1529,669 L1532,671 L1535,673 L1538,675 L1541,678 L1543,680 L1546,683 L1548,685 L1551,688 L1553,691 L1555,693 L1557,696 L1559,699 L1561,702 L1563,705 L1564,707 L1566,711 L1567,713 L1568,716 L1569,719 L1570,723 L1571,726 L1571,729 L1572,732 L1572,735 L1572,738 L1572,741Z" fill="url(#cell)" stroke="#f0c064" stroke-width="7" stroke-linejoin="round"/>
<path d="M1585,508 L1585,514 L1584,519 L1583,524 L1582,529 L1581,534 L1580,539 L1579,544 L1577,549 L1575,554 L1574,559 L1572,564 L1569,568 L1567,573 L1564,578 L1562,582 L1559,586 L1556,591 L1553,595 L1550,599 L1546,603 L1542,607 L1539,611 L1535,615 L1531,618 L1527,622 L1523,625 L1520,627 L1518,629 L1515,631 L1504,633 L1483,635 L1454,638 L1412,641 L1382,643 L1361,644 L1349,643 L1345,641 L1341,639 L1336,637 L1332,634 L1327,631 L1323,628 L1319,625 L1315,622 L1310,618 L1307,615 L1303,611 L1299,607 L1296,603 L1292,599 L1289,595 L1286,591 L1283,586 L1280,582 L1277,578 L1275,573 L1272,568 L1270,564 L1268,559 L1266,554 L1265,549 L1263,544 L1262,539 L1260,534 L1259,529 L1258,524 L1258,519 L1257,514 L1257,508 L1257,503 L1257,498 L1257,493 L1257,487 L1269,476 L1293,456 L1328,430 L1380,393 L1416,369 L1442,352 L1455,345 L1459,346 L1462,346 L1466,348 L1471,349 L1476,351 L1481,353 L1486,355 L1491,357 L1496,359 L1501,361 L1505,364 L1510,367 L1515,370 L1519,373 L1523,376 L1527,379 L1531,383 L1535,386 L1539,390 L1542,393 L1546,398 L1550,402 L1553,406 L1556,410 L1559,414 L1562,419 L1564,423 L1567,428 L1569,433 L1572,437 L1574,442 L1575,447 L1577,452 L1579,457 L1580,462 L1581,467 L1582,472 L1583,477 L1584,482 L1585,487 L1585,493 L1585,498 L1585,503Z" fill="url(#cell)" stroke="#f0c064" stroke-width="7" stroke-linejoin="round"/>
<path d="M1235,476 L1231,475 L1226,475 L1222,474 L1217,472 L1211,471 L1205,469 L1200,467 L1194,465 L1189,462 L1183,460 L1178,457 L1173,454 L1168,451 L1163,447 L1158,444 L1154,440 L1149,436 L1145,432 L1141,428 L1137,424 L1132,419 L1129,415 L1125,410 L1122,405 L1118,400 L1115,395 L1112,390 L1109,384 L1106,379 L1104,373 L1101,367 L1099,362 L1097,356 L1095,350 L1094,344 L1092,338 L1091,332 L1090,324 L1089,313 L1089,300 L1090,284 L1090,272 L1090,263 L1091,256 L1092,252 L1092,248 L1094,243 L1095,238 L1097,231 L1099,225 L1101,219 L1104,213 L1106,207 L1109,201 L1112,196 L1115,190 L1118,184 L1122,179 L1125,174 L1129,169 L1133,163 L1137,159 L1141,154 L1145,149 L1150,145 L1154,140 L1159,136 L1163,132 L1169,128 L1173,124 L1179,121 L1184,118 L1189,114 L1194,111 L1200,108 L1205,106 L1211,103 L1217,101 L1222,99 L1228,97 L1234,95 L1240,94 L1246,93 L1251,92 L1258,91 L1264,90 L1270,90 L1275,90 L1282,89 L1287,90 L1293,90 L1299,91 L1305,91 L1311,92 L1317,94 L1322,95 L1328,97 L1334,98 L1339,101 L1344,103 L1350,105 L1355,108 L1361,111 L1365,113 L1371,117 L1376,120 L1380,123 L1385,127 L1390,131 L1394,135 L1398,139 L1402,143 L1407,148 L1410,153 L1414,157 L1417,162 L1421,167 L1424,172 L1427,178 L1430,183 L1433,189 L1435,194 L1438,200 L1440,205 L1442,212 L1444,217 L1445,223 L1447,229 L1448,236 L1449,242 L1450,248 L1451,254 L1451,261 L1451,267 L1451,273 L1451,279 L1451,286 L1451,292 L1450,299 L1449,305 L1448,312 L1447,317 L1446,322 L1445,326 L1443,331 L1431,341 L1405,361 L1368,387 L1314,425 L1276,451 L1249,468Z" fill="url(#cell)" stroke="#f0c064" stroke-width="7" stroke-linejoin="round"/>
<path d="M1073,286 L1073,291 L1073,296 L1072,301 L1071,306 L1070,311 L1069,316 L1068,321 L1067,325 L1065,330 L1064,335 L1062,340 L1060,344 L1058,349 L1056,353 L1054,358 L1052,362 L1049,366 L1046,370 L1044,374 L1041,378 L1038,382 L1035,385 L1032,389 L1028,392 L1025,396 L1022,399 L1019,401 L1016,403 L1013,405 L1001,404 L976,399 L940,391 L889,378 L854,369 L830,362 L818,359 L817,357 L816,355 L815,353 L813,349 L811,344 L810,340 L808,337 L807,334 L807,332 L807,324 L807,309 L807,288 L808,258 L809,236 L811,220 L812,211 L814,207 L816,203 L818,199 L820,195 L823,191 L825,187 L828,183 L831,179 L834,175 L837,172 L840,168 L843,165 L847,161 L850,158 L854,155 L857,152 L861,149 L865,147 L869,144 L873,142 L877,140 L881,138 L885,136 L889,134 L894,132 L898,131 L902,130 L907,128 L911,127 L916,127 L920,126 L924,125 L929,125 L934,125 L938,125 L942,125 L947,125 L952,126 L956,127 L960,127 L965,128 L969,130 L974,131 L978,132 L982,134 L986,136 L991,138 L995,140 L999,142 L1003,144 L1007,147 L1010,149 L1014,152 L1018,155 L1021,158 L1025,161 L1028,165 L1032,168 L1035,172 L1038,175 L1041,179 L1044,183 L1046,187 L1049,191 L1052,195 L1054,200 L1056,204 L1058,208 L1060,213 L1062,217 L1064,222 L1065,227 L1067,232 L1068,236 L1069,241 L1070,246 L1071,251 L1072,256 L1073,261 L1073,266 L1073,271 L1074,276 L1074,281Z" fill="url(#cell)" stroke="#f0c064" stroke-width="7" stroke-linejoin="round"/>
<path d="M695,547 L694,552 L694,556 L693,561 L692,565 L691,570 L690,575 L689,579 L688,583 L686,588 L684,592 L682,597 L680,601 L678,605 L675,609 L673,613 L670,617 L667,621 L665,625 L662,629 L658,632 L655,636 L652,639 L648,643 L645,646 L640,649 L637,652 L633,655 L629,657 L624,660 L620,663 L616,665 L612,667 L607,669 L602,671 L598,673 L593,675 L588,676 L583,677 L579,679 L574,680 L569,681 L564,681 L559,682 L554,682 L549,683 L544,683 L539,683 L534,683 L528,682 L524,682 L521,682 L518,681 L516,681 L508,670 L492,648 L470,615 L437,566 L416,533 L401,508 L395,495 L397,491 L398,487 L400,483 L402,479 L405,474 L407,470 L409,466 L412,463 L415,458 L418,455 L421,451 L424,448 L428,444 L431,440 L434,437 L438,434 L442,431 L446,428 L450,425 L454,422 L458,420 L462,417 L467,415 L471,413 L476,411 L480,409 L485,407 L489,405 L494,404 L499,402 L504,401 L509,400 L514,399 L519,398 L524,398 L528,397 L534,397 L544,400 L560,405 L582,413 L613,426 L634,435 L649,442 L657,446 L660,449 L662,452 L665,455 L667,458 L670,463 L673,466 L675,470 L678,474 L680,479 L682,483 L684,487 L686,492 L688,496 L689,501 L690,505 L691,510 L692,515 L693,519 L694,524 L694,528 L695,533 L695,538 L695,542Z" fill="url(#cell)" stroke="#f0c064" stroke-width="7" stroke-linejoin="round"/>
<path d="M665,1002 L664,1004 L655,1008 L638,1014 L614,1021 L578,1032 L553,1038 L536,1043 L527,1044 L525,1043 L523,1041 L521,1039 L519,1037 L515,1033 L512,1030 L510,1027 L507,1024 L504,1020 L501,1017 L499,1013 L496,1009 L494,1005 L492,1001 L489,996 L487,992 L485,987 L483,983 L481,978 L480,974 L478,969 L477,964 L475,959 L474,954 L473,949 L472,944 L471,938 L470,933 L469,928 L469,923 L468,917 L468,912 L468,906 L467,901 L467,896 L468,891 L468,885 L468,880 L469,874 L469,869 L470,864 L471,859 L472,853 L473,849 L474,843 L475,838 L477,833 L478,829 L480,823 L481,819 L483,814 L485,810 L487,805 L489,801 L492,796 L494,792 L496,788 L499,784 L501,781 L504,777 L507,773 L510,770 L512,767 L515,764 L519,760 L522,758 L525,755 L528,753 L531,750 L534,748 L538,746 L541,744 L545,742 L548,741 L552,739 L555,738 L559,737 L562,736 L566,735 L569,735 L573,735 L577,734 L581,734 L584,735 L588,735 L591,735 L595,736 L598,737 L602,738 L606,739 L609,741 L613,742 L616,744 L620,746 L623,748 L626,750 L630,753 L633,755 L636,758 L639,760 L642,764 L645,767 L648,770 L651,773 L654,777 L656,780 L659,784 L661,788 L663,792 L665,806 L666,833 L667,871 L667,926 L666,963 L666,989Z" fill="url(#cell)" stroke="#f0c064" stroke-width="7" stroke-linejoin="round"/>
<path d="M810,906 L810,912 L810,916 L809,921 L809,926 L809,931 L808,936 L807,941 L807,946 L806,951 L805,955 L804,960 L803,964 L802,969 L800,973 L799,978 L798,982 L796,986 L795,990 L793,994 L792,998 L790,1002 L788,1006 L786,1009 L784,1012 L782,1016 L780,1019 L778,1022 L777,1025 L774,1027 L767,1028 L754,1026 L736,1022 L710,1015 L692,998 L680,968 L674,928 L674,870 L674,830 L676,801 L677,786 L679,782 L681,779 L684,775 L686,773 L688,770 L690,767 L692,765 L694,762 L697,760 L699,758 L702,756 L704,754 L707,752 L709,751 L712,750 L714,749 L717,748 L719,747 L722,746 L724,746 L727,745 L730,745 L732,745 L735,745 L737,746 L740,746 L742,747 L744,747 L746,748 L751,753 L758,763 L768,776 L782,797 L791,811 L798,822 L802,830 L803,834 L804,838 L805,842 L806,847 L807,852 L807,857 L808,861 L809,866 L809,871 L809,876 L810,881 L810,886 L810,891 L810,896 L810,901Z" fill="url(#cell)" stroke="#f0c064" stroke-width="7" stroke-linejoin="round"/>
<path d="M1209,605 L1209,609 L1209,613 L1209,616 L1208,620 L1208,624 L1207,627 L1206,631 L1206,635 L1205,639 L1204,642 L1203,646 L1202,649 L1201,653 L1199,656 L1198,659 L1197,662 L1195,666 L1194,669 L1192,672 L1191,674 L1189,678 L1182,680 L1168,683 L1148,686 L1120,689 L1101,690 L1087,690 L1079,689 L1077,686 L1075,683 L1073,680 L1071,678 L1069,674 L1068,672 L1066,669 L1065,666 L1063,662 L1062,659 L1061,656 L1059,653 L1058,649 L1057,646 L1056,642 L1055,639 L1054,635 L1054,631 L1053,627 L1052,624 L1052,620 L1051,616 L1051,613 L1051,609 L1051,605 L1051,601 L1051,597 L1051,594 L1051,589 L1051,586 L1051,582 L1052,578 L1052,574 L1053,571 L1054,567 L1054,564 L1055,560 L1056,556 L1057,553 L1058,549 L1059,546 L1061,543 L1062,539 L1063,536 L1065,533 L1066,530 L1068,527 L1069,524 L1071,521 L1073,518 L1075,515 L1077,513 L1079,510 L1081,508 L1083,506 L1085,503 L1087,501 L1089,499 L1091,497 L1094,496 L1096,494 L1098,492 L1101,491 L1103,490 L1106,488 L1108,487 L1111,486 L1113,485 L1116,484 L1118,484 L1121,483 L1123,483 L1126,483 L1129,483 L1131,483 L1134,483 L1137,483 L1139,483 L1142,484 L1144,484 L1147,485 L1149,486 L1152,487 L1154,488 L1157,490 L1159,491 L1162,492 L1164,494 L1166,496 L1169,497 L1171,499 L1173,501 L1175,503 L1177,506 L1179,508 L1181,510 L1183,513 L1185,515 L1187,518 L1189,521 L1191,524 L1192,527 L1194,530 L1195,533 L1197,536 L1198,539 L1199,543 L1201,546 L1202,549 L1203,553 L1204,556 L1205,560 L1206,564 L1206,567 L1207,571 L1208,574 L1208,578 L1209,582 L1209,586 L1209,589 L1209,594 L1209,597 L1209,601Z" fill="url(#cell)" stroke="#f0c064" stroke-width="7" stroke-linejoin="round"/>
<path d="M1240,808 L1240,813 L1240,817 L1239,822 L1239,826 L1238,831 L1237,836 L1237,840 L1236,845 L1235,849 L1234,854 L1233,858 L1232,862 L1230,867 L1229,871 L1227,875 L1226,878 L1224,883 L1222,886 L1221,890 L1219,893 L1217,897 L1215,901 L1213,904 L1211,907 L1208,910 L1206,913 L1204,916 L1201,919 L1199,921 L1196,924 L1194,926 L1191,928 L1189,930 L1186,932 L1183,934 L1181,936 L1178,937 L1175,939 L1172,940 L1169,941 L1166,942 L1163,943 L1160,943 L1158,944 L1154,944 L1152,944 L1149,944 L1146,944 L1143,944 L1140,943 L1137,943 L1135,942 L1133,941 L1129,939 L1123,935 L1116,929 L1105,921 L1098,915 L1093,910 L1090,907 L1088,905 L1087,903 L1085,900 L1083,897 L1081,893 L1080,890 L1078,886 L1076,883 L1074,878 L1073,875 L1071,871 L1070,867 L1069,862 L1068,858 L1066,854 L1065,849 L1064,845 L1064,840 L1063,836 L1062,831 L1062,826 L1061,822 L1061,817 L1060,813 L1060,808 L1060,803 L1060,799 L1060,794 L1060,789 L1061,785 L1061,780 L1062,776 L1062,771 L1063,766 L1064,762 L1064,758 L1065,753 L1066,749 L1068,744 L1069,740 L1070,736 L1071,732 L1073,728 L1074,724 L1076,720 L1078,716 L1079,712 L1081,709 L1083,706 L1091,703 L1107,700 L1130,697 L1162,694 L1185,692 L1201,692 L1209,693 L1211,696 L1213,699 L1215,702 L1217,705 L1219,709 L1221,712 L1222,716 L1224,720 L1226,724 L1227,728 L1229,732 L1230,736 L1232,740 L1233,744 L1234,749 L1235,753 L1236,758 L1237,762 L1237,766 L1238,771 L1239,776 L1239,780 L1240,785 L1240,789 L1240,794 L1240,799 L1240,803Z" fill="url(#cell)" stroke="#f0c064" stroke-width="7" stroke-linejoin="round"/>
<path d="M1111,989 L1111,992 L1110,995 L1110,998 L1109,1001 L1109,1004 L1108,1007 L1107,1010 L1106,1012 L1105,1015 L1103,1018 L1102,1021 L1101,1023 L1099,1026 L1097,1029 L1095,1031 L1094,1034 L1091,1036 L1089,1039 L1087,1041 L1085,1043 L1082,1045 L1080,1048 L1077,1050 L1075,1052 L1072,1054 L1069,1055 L1066,1057 L1063,1059 L1060,1061 L1057,1062 L1054,1064 L1051,1065 L1047,1066 L1044,1067 L1041,1069 L1038,1070 L1034,1071 L1031,1071 L1027,1072 L1024,1073 L1020,1073 L1016,1074 L1013,1074 L1009,1075 L1005,1075 L1002,1075 L999,1075 L996,1075 L993,1075 L989,1074 L982,1073 L973,1071 L962,1068 L954,1066 L948,1064 L946,1064 L945,1063 L944,1063 L942,1062 L940,1061 L937,1059 L934,1057 L931,1055 L928,1054 L925,1052 L923,1050 L920,1048 L918,1045 L915,1043 L913,1041 L911,1039 L909,1036 L906,1034 L905,1031 L903,1029 L901,1026 L899,1023 L898,1021 L897,1018 L895,1015 L894,1012 L893,1010 L892,1007 L891,1004 L891,1001 L890,998 L889,995 L889,992 L889,989 L889,986 L889,983 L889,981 L889,977 L889,975 L890,972 L891,969 L891,966 L892,963 L893,960 L894,957 L895,954 L897,952 L898,949 L899,946 L901,944 L903,941 L905,939 L906,936 L909,934 L911,931 L913,929 L915,927 L918,924 L920,922 L923,920 L925,918 L928,916 L931,914 L934,913 L937,911 L940,909 L942,908 L944,907 L945,906 L946,906 L947,906 L949,905 L952,904 L955,902 L958,901 L961,900 L964,900 L967,899 L970,898 L973,897 L976,897 L980,896 L984,896 L987,895 L991,895 L995,895 L998,895 L1002,895 L1005,895 L1009,895 L1013,895 L1016,896 L1020,896 L1024,897 L1027,898 L1031,898 L1034,899 L1038,900 L1041,901 L1044,902 L1047,903 L1051,905 L1054,906 L1057,908 L1060,909 L1063,911 L1066,913 L1069,914 L1072,916 L1075,918 L1077,920 L1080,922 L1082,924 L1085,927 L1087,929 L1089,931 L1091,934 L1094,936 L1095,939 L1097,941 L1099,944 L1101,946 L1102,949 L1103,952 L1105,954 L1106,957 L1107,960 L1108,963 L1109,966 L1109,969 L1110,972 L1110,975 L1111,977 L1111,981 L1111,983 L1111,986Z" fill="url(#cell)" stroke="#f0c064" stroke-width="7" stroke-linejoin="round"/>
<path d="M1029,1193 L1029,1199 L1029,1204 L1029,1209 L1028,1215 L1028,1220 L1027,1225 L1026,1230 L1026,1235 L1025,1241 L1024,1246 L1023,1251 L1022,1255 L1021,1261 L1019,1265 L1018,1270 L1017,1274 L1015,1279 L1014,1283 L1012,1287 L1011,1291 L1009,1296 L1007,1300 L1005,1303 L1003,1307 L1001,1311 L999,1314 L998,1317 L996,1320 L994,1322 L987,1323 L974,1321 L956,1317 L929,1310 L911,1305 L898,1300 L891,1295 L889,1291 L888,1287 L886,1283 L885,1279 L883,1274 L882,1270 L881,1265 L879,1261 L878,1255 L877,1251 L876,1246 L875,1241 L874,1235 L874,1230 L873,1225 L872,1220 L872,1215 L871,1209 L871,1204 L871,1199 L871,1193 L871,1188 L871,1183 L871,1178 L871,1172 L871,1167 L871,1161 L872,1156 L872,1150 L873,1145 L874,1140 L874,1135 L875,1130 L876,1125 L877,1120 L878,1115 L879,1110 L881,1106 L882,1101 L883,1097 L885,1092 L886,1088 L888,1083 L889,1079 L891,1075 L893,1071 L894,1068 L896,1066 L897,1063 L904,1063 L920,1066 L941,1070 L972,1078 L993,1084 L1008,1090 L1016,1094 L1017,1098 L1018,1102 L1019,1106 L1021,1110 L1022,1115 L1023,1120 L1024,1125 L1025,1130 L1026,1135 L1026,1140 L1027,1145 L1028,1150 L1028,1156 L1029,1161 L1029,1167 L1029,1172 L1029,1178 L1029,1183 L1029,1188Z" fill="url(#cell)" stroke="#f0c064" stroke-width="7" stroke-linejoin="round"/>
<path d="M791,344 L789,349 L787,354 L784,359 L782,364 L778,369 L776,372 L774,375 L773,377 L772,378 L769,381 L765,386 L758,393 L749,402 L742,409 L737,414 L733,417 L731,419 L729,420 L725,422 L722,424 L717,427 L712,429 L707,432 L703,434 L697,435 L693,437 L689,438 L686,439 L682,440 L671,437 L651,430 L623,419 L583,403 L556,391 L537,383 L527,379 L526,377 L525,375 L523,372 L521,369 L518,364 L515,359 L513,354 L510,349 L508,344 L506,339 L504,333 L502,328 L500,322 L499,317 L498,311 L496,306 L495,300 L495,295 L494,289 L493,284 L493,277 L493,272 L493,266 L493,261 L493,254 L494,249 L495,243 L495,238 L496,232 L498,227 L499,221 L500,216 L502,210 L504,205 L506,199 L508,194 L510,189 L513,184 L515,179 L518,174 L521,169 L524,165 L527,160 L530,156 L534,151 L537,147 L541,143 L544,140 L548,136 L552,132 L556,129 L560,125 L565,122 L569,119 L574,116 L578,114 L583,111 L587,109 L592,106 L597,105 L602,103 L607,101 L612,99 L616,98 L622,97 L627,96 L632,95 L637,95 L642,94 L647,94 L652,94 L657,94 L663,95 L668,95 L673,96 L678,97 L683,98 L688,99 L693,101 L697,103 L703,105 L707,106 L712,109 L717,111 L722,114 L726,116 L730,119 L734,122 L739,125 L743,129 L747,132 L751,136 L755,140 L759,143 L762,147 L766,151 L769,156 L773,160 L776,165 L778,169 L782,174 L784,179 L787,184 L789,189 L792,194 L793,199 L795,203 L796,207 L797,210 L798,219 L798,236 L797,259 L796,292 L795,316 L793,333Z" fill="url(#cell)" stroke="#f0c064" stroke-width="7" stroke-linejoin="round"/>
<path d="M815,1211 L815,1214 L814,1217 L813,1221 L812,1225 L810,1230 L808,1235 L806,1240 L804,1245 L801,1250 L799,1255 L796,1259 L794,1264 L791,1268 L788,1273 L785,1277 L781,1281 L778,1285 L774,1289 L771,1293 L767,1296 L763,1300 L759,1303 L755,1307 L751,1310 L746,1313 L742,1316 L738,1318 L733,1321 L729,1323 L715,1322 L690,1318 L656,1311 L607,1299 L574,1291 L550,1285 L538,1280 L537,1278 L535,1276 L532,1272 L530,1268 L527,1264 L524,1260 L522,1256 L521,1254 L519,1251 L518,1247 L516,1242 L513,1235 L510,1225 L507,1218 L505,1211 L504,1206 L503,1202 L503,1198 L502,1193 L502,1189 L501,1183 L501,1178 L501,1172 L501,1167 L502,1161 L502,1156 L503,1151 L504,1146 L505,1140 L506,1135 L507,1130 L509,1125 L511,1119 L512,1115 L514,1110 L516,1105 L519,1100 L521,1095 L524,1090 L527,1086 L530,1081 L533,1077 L536,1073 L539,1069 L543,1064 L546,1061 L549,1058 L551,1055 L554,1053 L562,1049 L577,1044 L599,1038 L629,1029 L654,1024 L678,1022 L698,1024 L717,1029 L732,1032 L742,1036 L749,1039 L752,1041 L756,1044 L759,1046 L763,1050 L767,1053 L771,1057 L774,1061 L778,1064 L781,1069 L785,1073 L788,1077 L791,1081 L794,1086 L796,1090 L799,1095 L801,1100 L804,1105 L806,1110 L808,1115 L810,1119 L812,1125 L813,1130 L814,1135 L815,1139 L816,1145 L817,1152 L817,1161 L817,1172 L817,1187 L816,1198 L816,1206Z" fill="url(#cell)" stroke="#f0c064" stroke-width="7" stroke-linejoin="round"/>
<path d="M1338,1276 L1337,1277 L1335,1278 L1332,1279 L1329,1281 L1323,1284 L1318,1286 L1313,1288 L1308,1290 L1302,1291 L1296,1293 L1291,1294 L1286,1295 L1280,1297 L1274,1297 L1268,1298 L1263,1299 L1257,1299 L1251,1299 L1246,1299 L1240,1299 L1234,1299 L1228,1298 L1219,1296 L1210,1294 L1197,1291 L1188,1288 L1179,1285 L1173,1283 L1168,1281 L1163,1278 L1159,1276 L1154,1273 L1149,1270 L1144,1267 L1140,1264 L1136,1260 L1131,1256 L1127,1253 L1123,1249 L1119,1245 L1115,1241 L1112,1237 L1108,1233 L1105,1229 L1101,1224 L1099,1220 L1097,1217 L1095,1214 L1094,1211 L1092,1204 L1089,1191 L1086,1172 L1082,1146 L1079,1127 L1077,1112 L1077,1103 L1078,1099 L1079,1095 L1079,1092 L1080,1090 L1081,1089 L1083,1084 L1088,1076 L1095,1065 L1105,1048 L1112,1037 L1117,1028 L1120,1023 L1122,1021 L1124,1019 L1127,1016 L1131,1013 L1136,1010 L1140,1006 L1144,1003 L1149,1000 L1154,997 L1159,994 L1164,991 L1168,989 L1174,986 L1179,984 L1184,982 L1189,980 L1195,979 L1200,977 L1206,976 L1211,975 L1217,973 L1223,973 L1228,972 L1234,971 L1240,971 L1246,971 L1251,971 L1257,971 L1263,971 L1268,972 L1274,973 L1280,973 L1286,975 L1291,976 L1296,977 L1302,979 L1308,980 L1312,982 L1317,984 L1321,985 L1324,987 L1331,995 L1343,1009 L1358,1030 L1379,1061 L1389,1091 L1391,1127 L1383,1165 L1364,1212 L1351,1244 L1342,1266Z" fill="url(#cell)" stroke="#f0c064" stroke-width="7" stroke-linejoin="round"/>
<path d="M1030,508 L1030,513 L1029,517 L1028,522 L1028,527 L1027,532 L1026,536 L1025,539 L1024,542 L1023,545 L1022,547 L1021,550 L1020,553 L1019,556 L1017,559 L1016,563 L1014,566 L1013,569 L1011,572 L1009,576 L1006,580 L1003,584 L1001,588 L998,592 L995,595 L991,599 L988,602 L984,606 L981,609 L977,612 L973,615 L970,618 L966,620 L963,623 L954,625 L938,629 L916,632 L885,637 L864,640 L850,642 L843,643 L842,642 L840,642 L837,641 L834,640 L829,638 L824,637 L820,635 L816,633 L811,631 L807,628 L802,626 L798,624 L794,621 L790,618 L786,615 L783,612 L778,609 L775,606 L772,602 L768,599 L765,595 L762,592 L759,588 L756,584 L753,580 L751,576 L748,572 L746,568 L744,563 L742,559 L740,554 L738,550 L736,545 L735,541 L734,536 L733,532 L732,527 L731,522 L730,517 L730,513 L729,508 L729,503 L729,498 L729,494 L730,489 L730,484 L731,479 L732,475 L733,470 L734,465 L735,461 L736,456 L738,451 L740,447 L742,443 L744,438 L746,434 L748,430 L751,426 L753,422 L756,417 L759,414 L762,410 L765,406 L768,402 L772,399 L775,396 L778,393 L783,389 L786,386 L790,383 L794,381 L798,378 L802,376 L805,374 L807,372 L810,371 L822,373 L847,379 L882,387 L934,400 L969,409 L994,416 L1006,421 L1008,424 L1009,427 L1011,430 L1013,434 L1016,438 L1018,443 L1020,447 L1021,451 L1023,456 L1024,461 L1026,465 L1027,470 L1028,475 L1028,479 L1029,484 L1030,489 L1030,494 L1030,498 L1030,503Z" fill="url(#cell)" stroke="#f0c064" stroke-width="7" stroke-linejoin="round"/>
<path d="M1029,858 L1025,862 L1023,865 L1021,867 L1019,868 L1018,869 L1012,872 L999,877 L981,884 L954,894 L935,900 L920,905 L912,907 L907,906 L903,906 L899,905 L894,905 L889,904 L885,903 L880,902 L876,900 L871,899 L867,898 L864,896 L861,895 L859,894 L853,886 L842,872 L827,850 L805,819 L791,798 L781,783 L777,775 L776,772 L776,770 L777,766 L777,763 L777,758 L777,753 L778,749 L779,745 L780,740 L781,736 L782,731 L783,727 L785,723 L787,719 L788,714 L790,711 L792,706 L795,702 L797,698 L799,695 L802,691 L805,687 L808,684 L810,680 L814,677 L817,673 L820,670 L823,667 L827,664 L831,661 L834,659 L838,656 L841,654 L850,651 L865,648 L885,645 L913,641 L933,638 L947,636 L954,635 L955,636 L957,636 L960,637 L963,638 L968,640 L972,641 L976,643 L981,645 L985,647 L989,649 L993,651 L997,653 L1001,656 L1005,659 L1008,661 L1012,664 L1016,667 L1019,670 L1022,673 L1025,677 L1029,680 L1032,684 L1034,687 L1037,691 L1040,695 L1042,698 L1044,702 L1046,705 L1048,709 L1049,720 L1047,739 L1044,765 L1039,803 L1036,829 L1032,848Z" fill="url(#cellw)" stroke="#f0c064" stroke-width="7" stroke-linejoin="round"/>
<ellipse cx="780" cy="200" rx="35" ry="80" transform="rotate(-30 780 200)" fill="#c3b1dd"/>
<path d="M1075.6,351.6C1072.8,358.2 1058.1,358.8 1050.8,364.3C1043.4,369.8 1038.7,383.7 1031.6,384.6C1024.5,385.5 1016.6,373.1 1008.2,369.5C999.7,365.9 985.3,368.7 981.0,363.0C976.7,357.3 983.5,344.3 982.4,335.2C981.3,326.1 971.6,315.0 974.4,308.4C977.2,301.8 991.9,301.2 999.2,295.7C1006.6,290.2 1011.3,276.3 1018.4,275.4C1025.5,274.5 1033.4,286.9 1041.8,290.5C1050.3,294.1 1064.7,291.3 1069.0,297.0C1073.3,302.7 1066.5,315.7 1067.6,324.8C1068.7,333.9 1078.4,345.0 1075.6,351.6Z" fill="#b3a6de" stroke="#9a90d4" stroke-width="6"/><ellipse cx="1029" cy="333" rx="25" ry="21" fill="#cfcdf0"/>
<ellipse cx="1395" cy="285" rx="30" ry="75" transform="rotate(10 1395 285)" fill="#c3b1dd"/>
<ellipse cx="720" cy="490" rx="30" ry="80" transform="rotate(5 720 490)" fill="#c3b1dd"/>
<ellipse cx="550" cy="650" rx="90" ry="30" transform="rotate(0 550 650)" fill="#c3b1dd"/>
<path d="M1221.8,719.3C1214.1,716.9 1211.6,700.5 1204.6,692.9C1197.6,685.4 1181.4,681.7 1179.6,673.9C1177.8,666.0 1190.7,655.7 1193.8,645.8C1196.8,635.9 1191.9,620.1 1197.8,614.6C1203.7,609.1 1219.1,615.2 1229.2,612.9C1239.2,610.6 1250.5,598.4 1258.2,600.7C1265.9,603.1 1268.4,619.5 1275.4,627.1C1282.4,634.6 1298.6,638.3 1300.4,646.1C1302.2,654.0 1289.3,664.3 1286.2,674.2C1283.2,684.1 1288.1,699.9 1282.2,705.4C1276.3,710.9 1260.9,704.8 1250.8,707.1C1240.8,709.4 1229.5,721.6 1221.8,719.3Z" fill="#b3a6de" stroke="#9a90d4" stroke-width="6"/><ellipse cx="1243" cy="664" rx="28" ry="24" fill="#cfcdf0"/>
<ellipse cx="1565" cy="500" rx="30" ry="80" transform="rotate(-10 1565 500)" fill="#c3b1dd"/>
<ellipse cx="985" cy="880" rx="80" ry="33" transform="rotate(-30 985 880)" fill="#c3b1dd"/>
<path d="M1172.8,954.6C1168.3,960.1 1154.0,956.8 1145.4,960.0C1136.8,963.3 1128.5,975.4 1121.4,974.3C1114.4,973.2 1110.1,959.1 1103.0,953.4C1095.9,947.6 1081.2,946.4 1078.7,939.7C1076.1,933.1 1086.2,922.4 1087.6,913.3C1089.1,904.3 1082.7,891.0 1087.2,885.4C1091.7,879.9 1106.0,883.2 1114.6,880.0C1123.2,876.7 1131.5,864.6 1138.6,865.7C1145.6,866.8 1149.9,880.9 1157.0,886.6C1164.1,892.4 1178.8,893.6 1181.3,900.3C1183.9,906.9 1173.8,917.6 1172.4,926.7C1170.9,935.7 1177.3,949.0 1172.8,954.6Z" fill="#b3a6de" stroke="#9a90d4" stroke-width="6"/><ellipse cx="1136" cy="916" rx="25" ry="21" fill="#cfcdf0"/>
<ellipse cx="540" cy="1090" rx="70" ry="40" transform="rotate(0 540 1090)" fill="#c3b1dd"/>
<ellipse cx="215" cy="1190" rx="50" ry="70" transform="rotate(30 215 1190)" fill="#c3b1dd"/>
<ellipse cx="600" cy="1210" rx="70" ry="30" transform="rotate(10 600 1210)" fill="#c3b1dd"/>
<path d="M697.3,1294.5C690.9,1295.4 683.4,1284.3 675.7,1281.3C667.9,1278.2 654.9,1281.2 650.8,1276.1C646.8,1271.0 652.6,1259.0 651.4,1250.7C650.2,1242.5 641.1,1232.7 643.5,1226.6C645.9,1220.6 659.2,1219.6 665.8,1214.4C672.3,1209.3 676.2,1196.5 682.7,1195.5C689.1,1194.6 696.6,1205.7 704.3,1208.7C712.1,1211.8 725.1,1208.8 729.2,1213.9C733.2,1219.0 727.4,1231.0 728.6,1239.3C729.8,1247.5 738.9,1257.3 736.5,1263.4C734.1,1269.4 720.8,1270.4 714.2,1275.6C707.7,1280.7 703.8,1293.5 697.3,1294.5Z" fill="#b3a6de" stroke="#9a90d4" stroke-width="6"/><ellipse cx="692" cy="1247" rx="22" ry="19" fill="#cfcdf0"/>
<ellipse cx="1530" cy="1130" rx="75" ry="40" transform="rotate(0 1530 1130)" fill="#c3b1dd"/>
<ellipse cx="1215" cy="1240" rx="70" ry="35" transform="rotate(0 1215 1240)" fill="#c3b1dd"/>
<ellipse cx="810" cy="1340" rx="25" ry="25" transform="rotate(0 810 1340)" fill="#c3b1dd"/>
<ellipse cx="920" cy="1050" rx="50" ry="25" transform="rotate(-20 920 1050)" fill="#c3b1dd"/>
<g fill="none" stroke="#bf3a2b" stroke-width="20" stroke-linecap="round">
<path d="M512,340 C480,200 560,110 680,100 C740,100 790,130 830,180"/>
<path d="M1340,100 C1230,170 1130,260 1110,370 C1090,480 1080,560 1020,620 C985,650 945,660 905,662"/>
<path d="M900,160 C980,170 1050,220 1075,300"/>
<path d="M320,510 C255,570 250,650 312,742"/>
<path d="M758,702 C650,700 560,760 510,860 C470,950 480,1020 468,1085"/>
<path d="M110,1080 C150,1140 260,1150 380,1110 C420,1100 440,1090 452,1080"/>
<path d="M700,990 C790,1010 830,1100 800,1200 C770,1290 680,1340 560,1362 C500,1378 450,1410 420,1452"/>
<path d="M1010,1080 C1040,980 1200,950 1330,1000 C1450,1050 1500,1150 1462,1250 C1432,1310 1382,1330 1340,1342"/>
<path d="M1010,1080 C980,1200 1000,1330 1080,1400 C1150,1450 1250,1470 1312,1492"/>
<path d="M1300,1270 C1290,1340 1200,1390 1130,1402"/>
<path d="M1500,380 C1530,430 1520,500 1480,560 C1400,650 1310,720 1300,820 C1290,900 1340,940 1400,950 C1480,940 1560,900 1622,850"/>
<path d="M810,1592 C820,1500 870,1440 960,1430 C1020,1425 1060,1410 1092,1400"/>
</g>
<g fill="none" stroke="#9fb1db" stroke-width="16" stroke-linecap="round">
<path d="M480,20 C450,100 470,180 500,230"/>
<path d="M600,20 C660,60 690,140 700,230"/>
<path d="M830,90 C870,150 880,230 870,300"/>
<path d="M880,40 C910,90 920,140 915,180"/>
<path d="M1020,130 C1040,90 1080,60 1140,60"/>
<path d="M1250,80 C1180,140 1150,220 1140,300"/>
<path d="M270,310 C280,400 330,470 380,520"/>
<path d="M190,480 C240,520 280,540 320,540"/>
<path d="M170,640 C250,600 330,600 400,610"/>
<path d="M140,690 C150,740 170,780 190,800"/>
<path d="M50,820 C150,820 220,870 270,950 C320,1020 400,1050 450,1050"/>
<path d="M60,1140 C70,1200 100,1240 140,1250"/>
<path d="M560,290 C640,290 690,340 690,400 C650,480 640,580 700,640 C730,670 760,680 780,690"/>
<path d="M420,910 C500,890 570,910 610,960 C640,990 650,1000 660,1000"/>
<path d="M370,1030 C440,1060 520,1050 600,1040"/>
<path d="M350,1280 C300,1380 280,1480 350,1560"/>
<path d="M440,1270 C470,1350 500,1450 540,1540"/>
<path d="M690,1520 C700,1560 700,1590 700,1610"/>
<path d="M960,1460 C990,1540 1050,1600 1130,1640"/>
<path d="M870,1060 C950,1020 1020,1080 1060,1090 C1110,1110 1140,1100 1160,1100"/>
<path d="M1110,700 C1130,600 1200,540 1300,540 C1380,540 1460,520 1500,480"/>
<path d="M1400,450 C1450,390 1560,370 1690,370"/>
<path d="M1340,740 C1420,770 1520,770 1590,750"/>
<path d="M1740,640 C1660,660 1610,720 1590,760"/>
<path d="M1530,800 C1580,770 1610,760 1640,760"/>
<path d="M1560,890 C1620,880 1680,880 1720,890"/>
<path d="M1640,1020 C1690,1010 1730,1000 1770,990"/>
<path d="M1590,1170 C1640,1180 1700,1190 1740,1200"/>
<path d="M1500,1210 C1540,1250 1600,1240 1640,1260 C1670,1280 1680,1300 1690,1330"/>
<path d="M1280,1380 C1330,1420 1370,1450 1390,1500"/>
<path d="M1340,1370 C1400,1390 1430,1400 1460,1420"/>
<path d="M1180,1390 C1260,1400 1320,1440 1350,1480"/>
</g>
<path d="M545.4,427.1C543.6,432.9 526.3,432.3 520.6,438.4C514.9,444.6 516.8,461.8 511.1,464.0C505.5,466.2 495.2,452.3 486.8,451.6C478.5,451.0 466.2,463.2 461.0,460.2C455.7,457.2 460.2,440.4 455.5,433.5C450.8,426.6 433.5,424.6 432.6,418.6C431.7,412.6 447.6,405.7 450.1,397.7C452.6,389.6 443.4,374.9 447.5,370.5C451.6,366.1 467.0,374.2 474.8,371.1C482.6,368.1 488.4,351.7 494.4,352.2C500.4,352.6 503.6,369.7 510.9,373.9C518.2,378.1 534.5,372.4 537.9,377.4C541.3,382.4 530.1,395.5 531.3,403.8C532.5,412.1 547.2,421.4 545.4,427.1Z" fill="#35b6ad"/>
<circle cx="494" cy="412" r="26" fill="#9be3db"/>
<circle cx="484" cy="420" r="11" fill="#1e9c94"/>
<path d="M1240.4,427.1C1238.6,432.9 1221.3,432.3 1215.6,438.4C1209.9,444.6 1211.8,461.8 1206.1,464.0C1200.5,466.2 1190.2,452.3 1181.8,451.6C1173.5,451.0 1161.2,463.2 1156.0,460.2C1150.7,457.2 1155.2,440.4 1150.5,433.5C1145.8,426.6 1128.5,424.6 1127.6,418.6C1126.7,412.6 1142.6,405.7 1145.1,397.7C1147.6,389.6 1138.4,374.9 1142.5,370.5C1146.6,366.1 1162.0,374.2 1169.8,371.1C1177.6,368.1 1183.4,351.7 1189.4,352.2C1195.4,352.6 1198.6,369.7 1205.9,373.9C1213.2,378.1 1229.5,372.4 1232.9,377.4C1236.3,382.4 1225.1,395.5 1226.3,403.8C1227.5,412.1 1242.2,421.4 1240.4,427.1Z" fill="#35b6ad"/>
<circle cx="1189" cy="412" r="26" fill="#9be3db"/>
<circle cx="1179" cy="420" r="11" fill="#1e9c94"/>
<path d="M1600.4,617.1C1598.6,622.9 1581.3,622.3 1575.6,628.4C1569.9,634.6 1571.8,651.8 1566.1,654.0C1560.5,656.2 1550.2,642.3 1541.8,641.6C1533.5,641.0 1521.2,653.2 1516.0,650.2C1510.7,647.2 1515.2,630.4 1510.5,623.5C1505.8,616.6 1488.5,614.6 1487.6,608.6C1486.7,602.6 1502.6,595.7 1505.1,587.7C1507.6,579.6 1498.4,564.9 1502.5,560.5C1506.6,556.1 1522.0,564.2 1529.8,561.1C1537.6,558.1 1543.4,541.7 1549.4,542.2C1555.4,542.6 1558.6,559.7 1565.9,563.9C1573.2,568.1 1589.5,562.4 1592.9,567.4C1596.3,572.4 1585.1,585.5 1586.3,593.8C1587.5,602.1 1602.2,611.4 1600.4,617.1Z" fill="#35b6ad"/>
<circle cx="1549" cy="602" r="26" fill="#9be3db"/>
<circle cx="1539" cy="610" r="11" fill="#1e9c94"/>
<path d="M905.4,977.1C903.6,982.9 886.3,982.3 880.6,988.4C874.9,994.6 876.8,1011.8 871.1,1014.0C865.5,1016.2 855.2,1002.3 846.8,1001.6C838.5,1001.0 826.2,1013.2 821.0,1010.2C815.7,1007.2 820.2,990.4 815.5,983.5C810.8,976.6 793.5,974.6 792.6,968.6C791.7,962.6 807.6,955.7 810.1,947.7C812.6,939.6 803.4,924.9 807.5,920.5C811.6,916.1 827.0,924.2 834.8,921.1C842.6,918.1 848.4,901.7 854.4,902.2C860.4,902.6 863.6,919.7 870.9,923.9C878.2,928.1 894.5,922.4 897.9,927.4C901.3,932.4 890.1,945.5 891.3,953.8C892.5,962.1 907.2,971.4 905.4,977.1Z" fill="#35b6ad"/>
<circle cx="854" cy="962" r="26" fill="#9be3db"/>
<circle cx="844" cy="970" r="11" fill="#1e9c94"/>
<path d="M225.4,1037.1C223.6,1042.9 206.3,1042.3 200.6,1048.4C194.9,1054.6 196.8,1071.8 191.1,1074.0C185.5,1076.2 175.2,1062.3 166.8,1061.6C158.5,1061.0 146.2,1073.2 141.0,1070.2C135.7,1067.2 140.2,1050.4 135.5,1043.5C130.8,1036.6 113.5,1034.6 112.6,1028.6C111.7,1022.6 127.6,1015.7 130.1,1007.7C132.6,999.6 123.4,984.9 127.5,980.5C131.6,976.1 147.0,984.2 154.8,981.1C162.6,978.1 168.4,961.7 174.4,962.2C180.4,962.6 183.6,979.7 190.9,983.9C198.2,988.1 214.5,982.4 217.9,987.4C221.3,992.4 210.1,1005.5 211.3,1013.8C212.5,1022.1 227.2,1031.4 225.4,1037.1Z" fill="#35b6ad"/>
<circle cx="174" cy="1022" r="26" fill="#9be3db"/>
<circle cx="164" cy="1030" r="11" fill="#1e9c94"/>
<path d="M1485.4,1007.1C1483.6,1012.9 1466.3,1012.3 1460.6,1018.4C1454.9,1024.6 1456.8,1041.8 1451.1,1044.0C1445.5,1046.2 1435.2,1032.3 1426.8,1031.6C1418.5,1031.0 1406.2,1043.2 1401.0,1040.2C1395.7,1037.2 1400.2,1020.4 1395.5,1013.5C1390.8,1006.6 1373.5,1004.6 1372.6,998.6C1371.7,992.6 1387.6,985.7 1390.1,977.7C1392.6,969.6 1383.4,954.9 1387.5,950.5C1391.6,946.1 1407.0,954.2 1414.8,951.1C1422.6,948.1 1428.4,931.7 1434.4,932.2C1440.4,932.6 1443.6,949.7 1450.9,953.9C1458.2,958.1 1474.5,952.4 1477.9,957.4C1481.3,962.4 1470.1,975.5 1471.3,983.8C1472.5,992.1 1487.2,1001.4 1485.4,1007.1Z" fill="#35b6ad"/>
<circle cx="1434" cy="992" r="26" fill="#9be3db"/>
<circle cx="1424" cy="1000" r="11" fill="#1e9c94"/>
<path d="M550.4,1307.1C548.6,1312.9 531.3,1312.3 525.6,1318.4C519.9,1324.6 521.8,1341.8 516.1,1344.0C510.5,1346.2 500.2,1332.3 491.8,1331.6C483.5,1331.0 471.2,1343.2 466.0,1340.2C460.7,1337.2 465.2,1320.4 460.5,1313.5C455.8,1306.6 438.5,1304.6 437.6,1298.6C436.7,1292.6 452.6,1285.7 455.1,1277.7C457.6,1269.6 448.4,1254.9 452.5,1250.5C456.6,1246.1 472.0,1254.2 479.8,1251.1C487.6,1248.1 493.4,1231.7 499.4,1232.2C505.4,1232.6 508.6,1249.7 515.9,1253.9C523.2,1258.1 539.5,1252.4 542.9,1257.4C546.3,1262.4 535.1,1275.5 536.3,1283.8C537.5,1292.1 552.2,1301.4 550.4,1307.1Z" fill="#35b6ad"/>
<circle cx="499" cy="1292" r="26" fill="#9be3db"/>
<circle cx="489" cy="1300" r="11" fill="#1e9c94"/>
<path d="M1180.4,1357.1C1178.6,1362.9 1161.3,1362.3 1155.6,1368.4C1149.9,1374.6 1151.8,1391.8 1146.1,1394.0C1140.5,1396.2 1130.2,1382.3 1121.8,1381.6C1113.5,1381.0 1101.2,1393.2 1096.0,1390.2C1090.7,1387.2 1095.2,1370.4 1090.5,1363.5C1085.8,1356.6 1068.5,1354.6 1067.6,1348.6C1066.7,1342.6 1082.6,1335.7 1085.1,1327.7C1087.6,1319.6 1078.4,1304.9 1082.5,1300.5C1086.6,1296.1 1102.0,1304.2 1109.8,1301.1C1117.6,1298.1 1123.4,1281.7 1129.4,1282.2C1135.4,1282.6 1138.6,1299.7 1145.9,1303.9C1153.2,1308.1 1169.5,1302.4 1172.9,1307.4C1176.3,1312.4 1165.1,1325.5 1166.3,1333.8C1167.5,1342.1 1182.2,1351.4 1180.4,1357.1Z" fill="#35b6ad"/>
<circle cx="1129" cy="1342" r="26" fill="#9be3db"/>
<circle cx="1119" cy="1350" r="11" fill="#1e9c94"/>
</g>
<g transform="translate(1678,956) scale(0.347,0.3398)" filter="url(#soft)">
<path d="M545.9,367.1C567.6,325.2 555.2,217.5 583.1,181.1C611.0,144.7 671.4,145.4 713.3,148.5C755.1,151.6 795.5,194.3 834.2,199.7C873.0,205.1 907.0,173.3 945.8,181.1C984.5,188.8 1031.0,249.3 1066.7,246.2C1102.4,243.1 1119.4,178.8 1159.7,162.5C1200.0,146.2 1268.2,131.5 1308.5,148.5C1348.8,165.6 1381.3,223.7 1401.5,264.8C1421.7,305.9 1407.7,364.0 1429.4,395.0C1451.1,426.0 1510.0,419.8 1531.7,450.8C1553.4,481.8 1561.1,537.6 1559.6,581.0C1558.0,624.4 1517.8,664.7 1522.4,711.2C1527.1,757.7 1570.5,813.5 1587.5,860.0C1604.5,906.5 1627.8,948.4 1624.7,990.2C1621.6,1032.0 1576.7,1064.6 1568.9,1111.1C1561.2,1157.6 1596.8,1228.9 1578.2,1269.2C1559.6,1309.5 1502.3,1321.9 1457.3,1352.9C1412.4,1383.9 1355.0,1427.3 1308.5,1455.2C1262.0,1483.1 1229.5,1506.4 1178.3,1520.3C1127.1,1534.3 1051.2,1532.7 1001.6,1538.9C952.0,1545.1 922.6,1562.2 880.7,1557.5C838.9,1552.8 800.1,1518.8 750.5,1511.0C700.9,1503.2 629.6,1525.0 583.1,1511.0C536.6,1497.0 519.5,1444.4 471.5,1427.3C423.4,1410.3 341.3,1430.4 294.8,1408.7C248.3,1387.0 206.5,1342.0 192.5,1297.1C178.5,1252.1 219.6,1190.2 211.1,1139.0C202.6,1087.8 149.1,1041.4 141.3,990.2C133.6,939.1 145.2,866.2 164.6,832.1C184.0,798.0 243.7,815.1 257.6,785.6C271.6,756.1 240.5,695.7 248.3,655.4C256.0,615.1 273.1,568.6 304.1,543.8C335.1,519.0 409.5,525.2 434.3,506.6C459.1,488.0 434.3,455.4 452.9,432.2C471.5,408.9 524.2,408.9 545.9,367.1Z" fill="#d3a045" stroke="#e0a44c" stroke-width="8"/>
<path d="M447,1019 L444,1025 L442,1031 L440,1037 L437,1042 L434,1048 L431,1054 L428,1059 L425,1064 L421,1070 L417,1075 L414,1079 L410,1084 L406,1088 L391,1094 L362,1102 L322,1111 L265,1123 L225,1132 L198,1137 L185,1139 L184,1139 L181,1138 L178,1136 L173,1134 L167,1131 L162,1128 L156,1125 L151,1122 L145,1118 L140,1115 L135,1111 L130,1107 L124,1103 L120,1098 L115,1094 L111,1090 L106,1084 L103,1080 L99,1075 L95,1070 L91,1064 L88,1059 L85,1054 L82,1048 L78,1042 L76,1037 L73,1031 L71,1025 L69,1019 L67,1013 L65,1007 L64,1001 L63,994 L62,988 L61,982 L60,976 L60,969 L60,963 L60,957 L60,951 L60,944 L61,938 L62,932 L63,926 L64,919 L65,913 L67,907 L69,901 L71,895 L73,889 L76,883 L78,878 L82,872 L85,866 L88,861 L91,856 L95,850 L99,845 L103,840 L106,835 L111,830 L115,826 L120,821 L124,817 L130,813 L135,809 L140,805 L145,802 L151,798 L156,795 L162,791 L167,789 L173,786 L179,783 L185,781 L191,779 L197,776 L203,775 L208,773 L212,772 L216,772 L229,775 L254,782 L289,793 L339,810 L373,822 L398,831 L410,836 L412,839 L414,841 L416,843 L417,844 L418,845 L420,856 L424,877 L430,907 L438,951 L443,982 L446,1006Z" fill="url(#cello)" stroke="#f3c566" stroke-width="7" stroke-linejoin="round"/>
<path d="M515,712 L513,717 L511,722 L509,727 L506,731 L503,736 L500,741 L497,745 L494,749 L491,754 L487,758 L484,762 L480,766 L476,770 L472,774 L468,777 L464,781 L459,784 L455,787 L450,791 L446,793 L440,796 L436,799 L431,802 L426,804 L420,806 L415,808 L410,810 L405,812 L399,813 L386,811 L362,805 L329,795 L283,780 L252,769 L231,762 L220,758 L219,756 L218,755 L216,752 L214,749 L211,744 L208,739 L206,735 L204,730 L202,725 L200,721 L198,716 L196,711 L195,706 L194,701 L193,696 L192,691 L191,685 L190,680 L190,675 L190,670 L190,664 L190,659 L190,654 L191,649 L192,643 L193,638 L194,633 L195,628 L196,623 L198,618 L200,613 L202,608 L204,603 L206,598 L208,593 L211,589 L214,584 L217,579 L220,575 L223,571 L226,566 L230,562 L233,558 L237,554 L241,550 L245,546 L249,543 L253,539 L258,536 L262,533 L267,530 L272,527 L277,524 L281,521 L286,519 L291,516 L297,514 L302,512 L307,510 L312,508 L318,507 L323,505 L328,504 L334,503 L339,502 L345,501 L350,501 L356,500 L361,500 L366,500 L371,500 L374,500 L378,500 L388,512 L406,538 L432,575 L469,631 L493,669 L509,697Z" fill="url(#cello)" stroke="#f3c566" stroke-width="7" stroke-linejoin="round"/>
<path d="M489,1343 L468,1384 L453,1412 L441,1431 L435,1441 L431,1443 L428,1445 L423,1448 L418,1450 L411,1453 L405,1456 L398,1458 L392,1461 L385,1463 L378,1465 L371,1467 L365,1468 L357,1470 L351,1471 L344,1472 L337,1473 L329,1474 L323,1474 L316,1475 L309,1475 L302,1474 L295,1474 L288,1474 L282,1473 L274,1472 L268,1471 L261,1470 L255,1468 L248,1466 L242,1465 L235,1463 L229,1460 L223,1458 L217,1455 L211,1453 L205,1450 L199,1446 L194,1443 L189,1440 L184,1436 L178,1432 L173,1429 L169,1425 L164,1421 L160,1416 L156,1412 L152,1407 L148,1402 L144,1397 L141,1392 L137,1387 L134,1382 L131,1377 L129,1372 L126,1366 L124,1361 L122,1355 L121,1349 L119,1344 L118,1338 L117,1332 L116,1326 L115,1320 L115,1314 L115,1308 L115,1302 L115,1296 L115,1290 L116,1284 L117,1278 L118,1272 L120,1266 L121,1260 L123,1254 L125,1248 L127,1243 L130,1237 L133,1231 L136,1226 L139,1220 L142,1214 L146,1209 L149,1204 L153,1199 L158,1193 L162,1188 L166,1183 L171,1179 L176,1174 L181,1169 L186,1165 L191,1161 L197,1156 L201,1153 L204,1151 L205,1149 L206,1149 L217,1147 L240,1142 L273,1135 L322,1124 L355,1117 L378,1113 L389,1110 L390,1111 L392,1111 L396,1112 L401,1113 L408,1115 L414,1117 L420,1119 L426,1121 L433,1124 L439,1126 L445,1129 L450,1132 L456,1135 L461,1137 L464,1139 L465,1140 L466,1141 L469,1149 L476,1168 L485,1194 L499,1234 L504,1269 L500,1306Z" fill="url(#cello)" stroke="#f3c566" stroke-width="7" stroke-linejoin="round"/>
<path d="M725,1532 L725,1532 L723,1533 L721,1535 L718,1537 L713,1540 L709,1543 L704,1546 L700,1548 L695,1551 L690,1554 L685,1556 L680,1558 L674,1560 L669,1562 L664,1564 L659,1565 L653,1567 L648,1568 L642,1569 L637,1570 L631,1571 L625,1572 L620,1573 L614,1573 L608,1574 L602,1574 L597,1574 L591,1574 L585,1573 L579,1573 L574,1572 L568,1571 L562,1570 L557,1569 L551,1568 L546,1567 L540,1565 L535,1564 L530,1562 L525,1560 L519,1558 L514,1556 L509,1554 L505,1551 L499,1548 L495,1546 L490,1543 L486,1540 L481,1537 L477,1534 L473,1531 L470,1527 L465,1524 L462,1520 L458,1516 L455,1513 L452,1509 L449,1505 L446,1501 L443,1497 L441,1492 L439,1489 L437,1486 L436,1483 L435,1481 L439,1469 L450,1447 L466,1414 L490,1368 L507,1336 L519,1314 L526,1303 L529,1302 L531,1301 L534,1300 L537,1300 L540,1299 L554,1301 L579,1306 L615,1314 L666,1326 L701,1334 L725,1340 L737,1343 L738,1344 L739,1345 L740,1347 L741,1348 L743,1350 L743,1361 L741,1384 L738,1417 L733,1466 L729,1498 L726,1521Z" fill="url(#cello)" stroke="#f3c566" stroke-width="7" stroke-linejoin="round"/>
<path d="M1017,1534 L1015,1538 L1013,1542 L1011,1546 L1008,1550 L1005,1555 L1003,1559 L1000,1563 L997,1567 L993,1572 L990,1575 L986,1579 L983,1583 L979,1586 L975,1590 L971,1593 L967,1596 L963,1599 L958,1602 L954,1605 L950,1607 L945,1610 L941,1612 L936,1614 L932,1616 L926,1618 L922,1619 L917,1620 L912,1622 L907,1623 L902,1624 L897,1624 L892,1625 L887,1625 L882,1625 L877,1625 L872,1625 L867,1625 L862,1624 L857,1624 L853,1623 L847,1622 L843,1620 L838,1619 L833,1618 L828,1616 L824,1614 L819,1612 L815,1610 L810,1607 L805,1605 L801,1602 L797,1599 L793,1596 L789,1593 L785,1590 L781,1586 L777,1583 L773,1579 L770,1575 L767,1572 L763,1567 L760,1563 L757,1559 L754,1555 L751,1550 L749,1545 L746,1541 L744,1536 L741,1531 L740,1527 L738,1524 L738,1522 L737,1521 L738,1512 L740,1493 L743,1465 L747,1424 L750,1396 L753,1376 L755,1366 L756,1364 L758,1361 L760,1358 L763,1355 L767,1350 L770,1347 L773,1343 L777,1339 L781,1335 L785,1332 L789,1329 L793,1326 L797,1323 L801,1320 L805,1317 L810,1315 L815,1312 L819,1310 L824,1308 L828,1306 L833,1304 L837,1303 L841,1302 L844,1301 L847,1300 L856,1302 L873,1305 L896,1311 L929,1319 L952,1326 L969,1331 L979,1336 L983,1340 L986,1343 L990,1347 L993,1350 L997,1355 L1000,1359 L1003,1363 L1005,1367 L1008,1372 L1011,1376 L1012,1378 L1013,1380 L1014,1381 L1014,1390 L1015,1409 L1016,1436 L1018,1475 L1018,1503 L1018,1523Z" fill="url(#cello)" stroke="#f3c566" stroke-width="7" stroke-linejoin="round"/>
<path d="M1366,1491 L1364,1495 L1363,1499 L1362,1503 L1360,1507 L1358,1511 L1356,1515 L1353,1519 L1351,1522 L1348,1526 L1345,1529 L1342,1533 L1339,1536 L1335,1540 L1331,1543 L1328,1546 L1324,1549 L1319,1552 L1315,1554 L1311,1557 L1306,1559 L1301,1562 L1296,1564 L1291,1566 L1286,1568 L1280,1570 L1275,1572 L1270,1574 L1264,1575 L1258,1577 L1253,1578 L1247,1579 L1241,1580 L1234,1581 L1229,1582 L1222,1582 L1216,1583 L1210,1583 L1203,1583 L1197,1583 L1191,1583 L1184,1583 L1178,1582 L1171,1582 L1165,1581 L1158,1580 L1152,1579 L1146,1578 L1140,1577 L1133,1575 L1127,1574 L1121,1572 L1115,1570 L1108,1568 L1102,1566 L1096,1564 L1091,1562 L1084,1559 L1079,1557 L1073,1554 L1068,1552 L1062,1548 L1057,1546 L1052,1543 L1047,1540 L1042,1536 L1038,1533 L1035,1531 L1033,1530 L1033,1530 L1032,1519 L1031,1496 L1029,1463 L1028,1414 L1027,1381 L1026,1358 L1027,1347 L1028,1346 L1030,1345 L1033,1343 L1037,1341 L1042,1338 L1047,1336 L1052,1334 L1057,1332 L1063,1330 L1068,1328 L1073,1327 L1079,1325 L1085,1324 L1091,1322 L1096,1321 L1102,1320 L1109,1319 L1115,1319 L1121,1318 L1127,1318 L1134,1317 L1140,1317 L1146,1317 L1152,1317 L1159,1318 L1165,1318 L1172,1319 L1178,1319 L1185,1320 L1191,1321 L1197,1322 L1204,1324 L1210,1325 L1216,1327 L1223,1328 L1229,1330 L1235,1332 L1241,1334 L1247,1336 L1253,1338 L1259,1341 L1264,1343 L1270,1346 L1275,1349 L1281,1352 L1286,1355 L1291,1358 L1296,1361 L1302,1364 L1306,1368 L1311,1371 L1315,1374 L1320,1378 L1324,1382 L1328,1386 L1331,1389 L1335,1394 L1339,1397 L1342,1401 L1345,1405 L1348,1410 L1351,1414 L1353,1418 L1356,1422 L1358,1427 L1360,1431 L1362,1435 L1363,1439 L1365,1444 L1366,1448 L1367,1452 L1367,1457 L1368,1461 L1368,1465 L1368,1470 L1368,1474 L1368,1478 L1367,1482 L1367,1487Z" fill="url(#cello)" stroke="#f3c566" stroke-width="7" stroke-linejoin="round"/>
<path d="M1644,1240 L1644,1246 L1643,1251 L1643,1256 L1642,1261 L1641,1267 L1640,1272 L1639,1277 L1637,1282 L1635,1288 L1634,1293 L1632,1298 L1630,1302 L1627,1307 L1625,1312 L1623,1317 L1620,1321 L1617,1326 L1614,1330 L1611,1334 L1608,1338 L1605,1343 L1601,1346 L1598,1350 L1594,1354 L1590,1358 L1586,1361 L1583,1364 L1579,1367 L1574,1370 L1570,1373 L1566,1376 L1561,1378 L1557,1381 L1552,1383 L1548,1385 L1543,1387 L1538,1389 L1533,1390 L1529,1392 L1524,1393 L1519,1394 L1514,1395 L1509,1395 L1504,1396 L1499,1396 L1494,1397 L1489,1397 L1484,1396 L1479,1396 L1474,1395 L1469,1395 L1464,1394 L1459,1393 L1454,1392 L1449,1390 L1445,1389 L1440,1387 L1435,1385 L1430,1383 L1426,1381 L1421,1378 L1417,1376 L1413,1373 L1409,1370 L1404,1367 L1400,1364 L1396,1361 L1393,1358 L1388,1354 L1385,1350 L1381,1346 L1378,1343 L1375,1338 L1371,1334 L1368,1330 L1366,1326 L1363,1321 L1360,1317 L1358,1312 L1355,1307 L1353,1302 L1351,1298 L1350,1295 L1349,1293 L1349,1292 L1353,1281 L1361,1257 L1374,1224 L1394,1175 L1417,1142 L1449,1120 L1485,1111 L1534,1112 L1567,1115 L1591,1117 L1604,1121 L1608,1126 L1611,1130 L1614,1134 L1617,1138 L1620,1143 L1623,1148 L1625,1152 L1627,1157 L1630,1162 L1632,1167 L1634,1172 L1635,1177 L1637,1182 L1639,1187 L1640,1192 L1641,1197 L1642,1203 L1643,1208 L1643,1213 L1644,1218 L1644,1224 L1644,1229 L1644,1235Z" fill="url(#cello)" stroke="#f3c566" stroke-width="7" stroke-linejoin="round"/>
<path d="M1695,967 L1694,972 L1694,977 L1693,983 L1692,987 L1691,993 L1689,998 L1688,1003 L1686,1008 L1684,1013 L1682,1018 L1679,1022 L1677,1027 L1674,1032 L1671,1036 L1668,1041 L1664,1045 L1661,1050 L1657,1054 L1653,1058 L1649,1062 L1645,1066 L1641,1070 L1636,1073 L1632,1077 L1627,1080 L1622,1084 L1617,1087 L1612,1090 L1607,1093 L1602,1095 L1598,1097 L1594,1099 L1591,1100 L1579,1101 L1557,1100 L1527,1100 L1482,1098 L1445,1088 L1411,1067 L1381,1038 L1351,995 L1331,965 L1318,943 L1313,931 L1314,925 L1315,921 L1317,916 L1319,911 L1321,906 L1323,901 L1326,896 L1328,892 L1331,887 L1334,882 L1337,878 L1340,873 L1344,869 L1347,865 L1350,862 L1353,859 L1356,856 L1368,852 L1392,844 L1425,835 L1474,822 L1508,813 L1532,807 L1544,804 L1548,805 L1551,806 L1556,807 L1561,808 L1567,810 L1573,812 L1579,814 L1584,816 L1591,818 L1596,821 L1601,823 L1607,826 L1612,829 L1617,832 L1622,835 L1627,838 L1632,842 L1636,845 L1641,849 L1645,853 L1649,857 L1653,861 L1657,865 L1661,869 L1664,873 L1668,878 L1671,882 L1674,887 L1677,892 L1679,896 L1682,901 L1684,906 L1686,911 L1688,916 L1689,921 L1691,926 L1692,931 L1693,936 L1694,941 L1694,946 L1695,952 L1695,957 L1695,962Z" fill="url(#cello)" stroke="#f3c566" stroke-width="7" stroke-linejoin="round"/>
<path d="M1581,745 L1581,748 L1580,751 L1580,755 L1579,758 L1578,761 L1577,765 L1576,768 L1574,771 L1573,774 L1571,777 L1570,780 L1568,782 L1567,785 L1555,789 L1533,797 L1501,806 L1454,818 L1422,827 L1400,833 L1389,835 L1387,835 L1385,834 L1383,833 L1379,832 L1375,830 L1371,829 L1367,827 L1363,826 L1359,824 L1355,822 L1351,820 L1348,818 L1344,815 L1341,813 L1338,811 L1335,808 L1331,806 L1329,803 L1326,801 L1323,798 L1320,795 L1318,792 L1316,789 L1314,787 L1311,783 L1310,780 L1308,777 L1306,774 L1305,771 L1303,768 L1302,765 L1301,761 L1300,758 L1299,755 L1299,751 L1298,748 L1298,745 L1298,741 L1298,738 L1298,735 L1298,731 L1299,728 L1299,725 L1300,722 L1301,718 L1302,715 L1303,712 L1305,709 L1306,705 L1308,702 L1310,699 L1311,696 L1314,693 L1316,690 L1318,687 L1320,685 L1323,682 L1326,679 L1329,676 L1331,674 L1335,671 L1338,669 L1341,666 L1344,664 L1348,662 L1351,660 L1353,659 L1354,658 L1355,658 L1364,657 L1381,655 L1407,653 L1444,650 L1470,648 L1489,647 L1500,648 L1505,649 L1508,651 L1512,652 L1516,654 L1520,656 L1524,658 L1528,660 L1531,662 L1535,664 L1538,666 L1541,669 L1544,671 L1548,674 L1551,676 L1553,679 L1556,682 L1559,685 L1561,687 L1563,690 L1565,693 L1568,696 L1570,699 L1571,702 L1573,705 L1574,709 L1576,712 L1577,715 L1578,718 L1579,722 L1580,725 L1580,728 L1581,731 L1581,735 L1581,738 L1581,741Z" fill="url(#cello)" stroke="#f3c566" stroke-width="7" stroke-linejoin="round"/>
<path d="M1597,508 L1596,514 L1596,520 L1595,525 L1594,530 L1593,536 L1592,542 L1590,547 L1588,552 L1586,558 L1585,563 L1582,568 L1580,573 L1577,578 L1575,583 L1572,588 L1569,592 L1565,597 L1562,602 L1559,606 L1555,610 L1551,615 L1547,618 L1543,622 L1540,626 L1535,630 L1521,633 L1495,637 L1460,641 L1408,645 L1373,648 L1349,649 L1337,650 L1335,649 L1333,648 L1330,646 L1326,643 L1321,640 L1316,637 L1312,633 L1308,630 L1303,626 L1299,622 L1295,619 L1291,615 L1287,610 L1283,606 L1280,602 L1277,597 L1273,592 L1271,588 L1268,584 L1266,579 L1263,575 L1261,570 L1259,564 L1257,558 L1254,550 L1252,544 L1250,538 L1249,533 L1248,529 L1247,524 L1247,519 L1246,514 L1246,508 L1245,504 L1245,500 L1245,496 L1246,493 L1258,483 L1286,462 L1326,433 L1386,392 L1427,364 L1458,346 L1474,338 L1480,340 L1486,342 L1491,344 L1496,346 L1502,349 L1506,352 L1511,354 L1516,357 L1521,361 L1526,364 L1530,367 L1535,370 L1539,374 L1543,378 L1547,382 L1551,386 L1555,390 L1559,395 L1562,399 L1565,403 L1569,408 L1572,413 L1575,418 L1577,422 L1580,428 L1582,433 L1585,438 L1586,443 L1588,448 L1590,454 L1592,459 L1593,464 L1594,470 L1595,475 L1596,481 L1596,486 L1597,492 L1597,497 L1597,503Z" fill="url(#cello)" stroke="#f3c566" stroke-width="7" stroke-linejoin="round"/>
<path d="M1142,446 L1138,443 L1135,441 L1132,437 L1128,433 L1123,428 L1119,423 L1115,418 L1112,413 L1108,407 L1104,402 L1101,396 L1098,391 L1095,384 L1093,379 L1091,375 L1089,371 L1088,367 L1087,356 L1087,337 L1087,309 L1088,270 L1089,242 L1090,220 L1092,207 L1095,201 L1098,195 L1101,189 L1104,183 L1108,176 L1112,171 L1115,165 L1119,160 L1124,154 L1128,149 L1132,144 L1137,139 L1142,134 L1146,129 L1151,125 L1156,121 L1162,116 L1167,112 L1173,109 L1178,105 L1184,101 L1190,98 L1196,95 L1201,92 L1208,90 L1214,87 L1220,85 L1226,83 L1232,81 L1238,80 L1245,78 L1251,77 L1258,76 L1264,76 L1270,75 L1276,75 L1283,75 L1289,75 L1296,75 L1302,76 L1308,77 L1314,78 L1320,79 L1326,81 L1333,83 L1339,85 L1345,87 L1350,89 L1356,92 L1362,94 L1367,97 L1373,100 L1378,104 L1384,107 L1389,111 L1393,115 L1399,119 L1403,124 L1408,128 L1412,132 L1417,138 L1421,142 L1425,147 L1428,153 L1432,158 L1435,164 L1439,169 L1442,175 L1445,181 L1447,187 L1450,193 L1452,199 L1454,206 L1456,212 L1458,218 L1460,224 L1461,232 L1462,238 L1463,245 L1464,251 L1464,258 L1465,265 L1465,272 L1465,278 L1464,285 L1464,292 L1463,299 L1462,305 L1461,312 L1460,318 L1459,322 L1459,324 L1458,325 L1445,335 L1416,356 L1374,385 L1312,428 L1266,455 L1227,471 L1199,473 L1176,463 L1160,456 L1149,450Z" fill="url(#cello)" stroke="#f3c566" stroke-width="7" stroke-linejoin="round"/>
<path d="M1075,333 L1074,337 L1073,340 L1071,344 L1069,348 L1067,353 L1065,358 L1062,363 L1060,367 L1057,372 L1054,376 L1052,380 L1049,384 L1045,389 L1042,392 L1039,396 L1035,400 L1031,403 L1028,406 L1026,408 L1025,409 L1024,410 L1011,407 L984,401 L944,391 L886,376 L846,357 L820,329 L809,295 L810,250 L812,219 L813,196 L815,185 L817,182 L818,179 L821,175 L824,172 L827,167 L830,164 L834,160 L837,156 L841,153 L844,149 L848,146 L852,143 L856,140 L860,137 L864,134 L869,132 L873,129 L877,127 L882,125 L886,123 L891,121 L896,120 L900,119 L905,117 L910,116 L914,115 L919,115 L924,114 L929,114 L934,114 L938,114 L943,114 L948,114 L953,115 L958,115 L962,116 L967,117 L972,119 L977,120 L981,121 L986,123 L990,125 L995,127 L999,129 L1004,132 L1008,134 L1012,137 L1016,140 L1020,143 L1024,146 L1028,149 L1031,153 L1035,156 L1039,160 L1042,164 L1045,167 L1049,172 L1052,176 L1054,180 L1057,184 L1060,189 L1062,194 L1065,198 L1067,203 L1069,208 L1071,212 L1073,217 L1074,221 L1076,226 L1077,234 L1077,249 L1077,267 L1077,293 L1076,312 L1076,325Z" fill="url(#cello)" stroke="#f3c566" stroke-width="7" stroke-linejoin="round"/>
<path d="M706,547 L705,553 L705,558 L704,562 L703,567 L702,573 L701,577 L699,582 L698,587 L696,592 L694,596 L692,601 L690,605 L687,610 L685,614 L682,619 L680,623 L676,627 L673,631 L670,635 L667,639 L663,643 L659,646 L656,650 L652,653 L647,657 L644,660 L639,663 L635,666 L630,669 L626,671 L621,674 L617,676 L611,678 L607,680 L602,682 L597,684 L591,686 L586,687 L581,688 L576,690 L571,691 L565,691 L560,692 L555,693 L549,693 L544,693 L539,693 L534,693 L529,693 L517,681 L498,655 L472,618 L436,563 L411,526 L395,499 L387,486 L388,484 L389,482 L391,479 L393,475 L395,470 L398,466 L400,461 L403,457 L406,453 L409,449 L413,445 L416,441 L420,437 L423,434 L427,430 L431,427 L435,423 L439,420 L443,417 L448,414 L452,411 L457,409 L461,406 L466,404 L471,402 L476,400 L481,398 L486,396 L491,394 L496,393 L501,392 L506,391 L511,390 L523,393 L545,400 L576,412 L619,430 L648,442 L669,451 L679,457 L681,460 L683,463 L685,466 L687,470 L690,475 L692,479 L694,484 L696,488 L698,493 L699,498 L701,503 L702,508 L703,513 L704,518 L705,523 L705,527 L706,533 L706,538 L706,543Z" fill="url(#cello)" stroke="#f3c566" stroke-width="7" stroke-linejoin="round"/>
<path d="M512,1044 L509,1042 L507,1039 L504,1036 L501,1033 L498,1028 L496,1025 L493,1021 L490,1017 L488,1012 L485,1008 L483,1003 L481,999 L478,993 L476,989 L474,984 L473,979 L471,973 L469,968 L468,963 L466,958 L465,952 L464,947 L463,941 L462,936 L461,930 L461,924 L460,919 L460,913 L459,907 L459,901 L459,896 L459,890 L460,884 L460,878 L461,873 L461,867 L462,861 L463,856 L464,850 L465,845 L466,839 L468,834 L469,829 L471,824 L473,818 L474,813 L476,808 L478,803 L481,798 L483,794 L485,789 L488,785 L490,780 L492,777 L494,774 L496,772 L497,770 L500,767 L505,762 L512,756 L522,747 L529,741 L534,736 L538,733 L540,732 L545,731 L552,730 L563,729 L577,727 L588,726 L596,726 L601,726 L605,727 L608,728 L611,730 L615,731 L619,733 L622,735 L626,737 L629,740 L633,742 L636,745 L640,748 L643,751 L646,754 L649,757 L652,761 L655,764 L658,768 L661,772 L663,775 L665,777 L666,780 L667,795 L668,823 L668,864 L668,923 L660,966 L641,999 L613,1020 L571,1032 L543,1039 L523,1044Z" fill="url(#cello)" stroke="#f3c566" stroke-width="7" stroke-linejoin="round"/>
<path d="M816,907 L816,913 L816,918 L815,923 L815,928 L814,934 L814,939 L813,944 L812,949 L811,955 L810,960 L809,964 L808,969 L807,974 L805,979 L804,984 L803,988 L801,993 L799,997 L798,1001 L796,1005 L794,1010 L792,1013 L790,1017 L788,1021 L786,1025 L778,1026 L764,1024 L744,1020 L715,1013 L696,995 L683,963 L676,920 L676,857 L677,815 L677,786 L677,771 L678,770 L679,769 L681,767 L683,764 L685,761 L687,758 L690,755 L692,753 L695,750 L697,748 L700,746 L702,744 L705,743 L708,741 L710,740 L713,738 L716,737 L719,736 L721,736 L724,735 L727,735 L729,735 L732,735 L733,735 L735,735 L741,741 L751,755 L764,774 L784,803 L798,823 L807,839 L812,847 L812,851 L813,855 L814,859 L814,864 L815,870 L815,875 L816,880 L816,885 L816,891 L816,896 L816,902Z" fill="url(#cello)" stroke="#f3c566" stroke-width="7" stroke-linejoin="round"/>
<path d="M1215,605 L1215,609 L1214,613 L1214,617 L1214,621 L1213,625 L1212,629 L1212,633 L1211,637 L1210,641 L1209,645 L1208,648 L1207,652 L1206,656 L1204,659 L1203,663 L1201,666 L1200,670 L1198,673 L1197,675 L1196,677 L1196,678 L1188,680 L1173,682 L1150,685 L1118,688 L1095,690 L1080,691 L1072,690 L1071,689 L1070,687 L1069,685 L1067,683 L1065,679 L1063,676 L1062,673 L1060,670 L1058,666 L1057,663 L1056,659 L1054,656 L1053,652 L1052,648 L1051,645 L1050,641 L1049,637 L1048,633 L1047,629 L1047,625 L1046,621 L1046,617 L1045,613 L1045,609 L1045,605 L1045,601 L1045,597 L1045,593 L1045,589 L1045,585 L1046,581 L1046,577 L1047,572 L1047,569 L1048,565 L1049,561 L1050,557 L1051,553 L1052,549 L1053,546 L1054,542 L1056,538 L1057,535 L1058,531 L1060,528 L1062,525 L1063,521 L1065,518 L1067,515 L1069,512 L1071,509 L1073,507 L1075,504 L1077,501 L1079,499 L1081,496 L1084,494 L1086,492 L1089,490 L1091,488 L1094,486 L1096,484 L1099,483 L1101,482 L1104,480 L1107,479 L1109,478 L1112,477 L1115,476 L1117,476 L1120,475 L1123,475 L1126,474 L1129,474 L1131,474 L1134,474 L1137,475 L1140,475 L1142,476 L1145,476 L1148,477 L1151,478 L1153,479 L1156,480 L1159,482 L1161,483 L1164,484 L1166,486 L1169,488 L1171,490 L1174,492 L1176,494 L1178,496 L1181,499 L1183,501 L1185,504 L1187,507 L1189,509 L1191,512 L1193,515 L1195,518 L1197,521 L1198,525 L1200,528 L1201,531 L1203,535 L1204,538 L1206,542 L1207,546 L1208,549 L1209,553 L1210,557 L1211,561 L1212,565 L1212,569 L1213,572 L1214,577 L1214,581 L1214,585 L1215,589 L1215,593 L1215,597 L1215,601Z" fill="url(#cello)" stroke="#f3c566" stroke-width="7" stroke-linejoin="round"/>
<path d="M1246,808 L1246,814 L1246,818 L1246,823 L1245,828 L1244,833 L1244,838 L1243,843 L1242,848 L1241,853 L1240,857 L1239,862 L1237,866 L1236,871 L1234,875 L1233,880 L1231,884 L1229,888 L1228,892 L1226,896 L1224,900 L1222,904 L1219,907 L1217,911 L1215,914 L1212,918 L1210,921 L1208,924 L1205,927 L1202,930 L1200,932 L1197,935 L1194,937 L1191,939 L1189,941 L1187,943 L1186,943 L1184,944 L1182,945 L1177,947 L1172,948 L1164,951 L1158,952 L1154,954 L1152,954 L1151,954 L1150,954 L1149,954 L1148,954 L1147,954 L1142,951 L1132,943 L1120,933 L1101,918 L1088,907 L1079,900 L1075,896 L1074,895 L1074,894 L1072,891 L1071,888 L1069,884 L1068,880 L1066,875 L1065,871 L1063,866 L1062,862 L1061,857 L1060,853 L1058,848 L1058,843 L1057,838 L1056,833 L1055,828 L1055,823 L1055,818 L1054,814 L1054,808 L1054,803 L1054,798 L1054,794 L1054,788 L1055,783 L1055,778 L1055,774 L1056,768 L1057,764 L1058,759 L1058,754 L1060,749 L1061,745 L1062,740 L1063,736 L1065,731 L1066,727 L1068,722 L1069,718 L1071,714 L1073,710 L1074,707 L1075,705 L1076,703 L1085,701 L1102,699 L1127,696 L1165,692 L1190,690 L1207,689 L1216,689 L1217,691 L1218,692 L1220,695 L1222,698 L1224,702 L1226,706 L1228,710 L1229,714 L1231,718 L1233,722 L1234,727 L1236,731 L1237,736 L1239,740 L1240,745 L1241,749 L1242,754 L1243,759 L1244,764 L1244,768 L1245,774 L1246,778 L1246,783 L1246,788 L1246,794 L1247,798 L1247,803Z" fill="url(#cello)" stroke="#f3c566" stroke-width="7" stroke-linejoin="round"/>
<path d="M1119,989 L1119,993 L1119,995 L1118,998 L1118,999 L1118,1000 L1116,1004 L1112,1010 L1107,1019 L1099,1032 L1094,1040 L1090,1047 L1088,1050 L1086,1052 L1085,1053 L1083,1054 L1080,1056 L1077,1058 L1074,1060 L1071,1062 L1068,1064 L1065,1066 L1061,1068 L1058,1069 L1055,1071 L1051,1072 L1047,1073 L1044,1075 L1040,1076 L1036,1077 L1033,1078 L1029,1078 L1026,1079 L1023,1079 L1015,1078 L1001,1076 L982,1071 L955,1065 L937,1060 L924,1057 L918,1055 L917,1054 L916,1053 L914,1052 L912,1050 L909,1047 L907,1045 L905,1042 L902,1040 L900,1037 L898,1034 L896,1032 L894,1029 L892,1026 L891,1023 L889,1020 L888,1017 L887,1014 L886,1011 L885,1008 L884,1005 L883,1002 L882,999 L882,996 L882,993 L881,989 L881,986 L881,983 L881,980 L882,977 L882,974 L882,971 L883,968 L884,964 L885,961 L886,958 L887,956 L888,952 L889,949 L891,947 L892,944 L894,941 L896,938 L898,935 L900,933 L902,930 L904,928 L906,926 L907,925 L908,924 L914,921 L926,916 L943,910 L968,901 L985,895 L998,890 L1006,889 L1010,889 L1014,889 L1018,890 L1021,890 L1025,891 L1029,891 L1033,892 L1036,893 L1040,894 L1044,895 L1047,896 L1051,898 L1055,899 L1058,901 L1061,902 L1065,904 L1068,906 L1071,907 L1074,909 L1077,911 L1080,914 L1083,916 L1086,918 L1088,920 L1091,923 L1093,925 L1096,927 L1098,930 L1100,933 L1102,935 L1104,938 L1106,941 L1108,944 L1109,947 L1111,949 L1112,952 L1114,956 L1115,958 L1116,961 L1116,964 L1117,968 L1118,971 L1118,974 L1119,977 L1119,980 L1119,983 L1119,986Z" fill="url(#cello)" stroke="#f3c566" stroke-width="7" stroke-linejoin="round"/>
<path d="M1035,1194 L1035,1200 L1034,1205 L1034,1211 L1034,1217 L1033,1223 L1032,1228 L1032,1234 L1031,1239 L1030,1245 L1029,1250 L1028,1255 L1027,1260 L1026,1266 L1024,1271 L1023,1276 L1021,1280 L1020,1286 L1018,1290 L1017,1295 L1015,1299 L1013,1304 L1011,1308 L1009,1312 L1007,1315 L1005,1319 L1003,1322 L1002,1324 L1001,1326 L1001,1326 L994,1325 L979,1321 L958,1316 L927,1308 L905,1302 L891,1298 L884,1295 L883,1294 L882,1292 L881,1289 L880,1286 L878,1280 L877,1276 L876,1271 L874,1266 L873,1260 L872,1255 L871,1250 L870,1245 L869,1239 L868,1234 L868,1228 L867,1223 L866,1217 L866,1211 L866,1205 L865,1200 L865,1194 L865,1188 L865,1182 L865,1177 L865,1171 L866,1165 L866,1160 L866,1154 L867,1148 L868,1143 L868,1137 L869,1132 L870,1126 L871,1121 L872,1115 L873,1110 L874,1105 L876,1100 L877,1095 L878,1090 L880,1085 L882,1081 L883,1076 L885,1072 L887,1067 L889,1064 L890,1061 L891,1059 L891,1058 L899,1059 L915,1063 L939,1069 L974,1077 L998,1084 L1014,1089 L1022,1092 L1023,1094 L1024,1097 L1024,1101 L1026,1105 L1027,1110 L1028,1115 L1029,1121 L1030,1126 L1031,1132 L1032,1137 L1032,1143 L1033,1148 L1034,1154 L1034,1160 L1034,1165 L1035,1171 L1035,1177 L1035,1182 L1035,1188Z" fill="url(#cello)" stroke="#f3c566" stroke-width="7" stroke-linejoin="round"/>
<path d="M702,445 L699,446 L686,443 L661,434 L627,421 L577,400 L543,386 L520,375 L508,369 L506,366 L504,362 L502,358 L500,353 L497,347 L495,342 L493,336 L491,331 L489,325 L487,319 L486,313 L485,307 L484,301 L483,295 L482,289 L482,283 L481,276 L481,271 L481,265 L481,259 L482,252 L482,246 L483,240 L484,234 L485,228 L486,222 L487,216 L489,211 L491,204 L493,199 L495,193 L497,188 L500,182 L502,177 L505,171 L508,166 L511,161 L514,156 L517,151 L521,147 L525,142 L528,137 L532,133 L536,129 L540,125 L544,121 L549,117 L553,114 L558,110 L563,107 L567,104 L572,101 L577,98 L582,96 L587,94 L592,92 L598,89 L603,88 L608,86 L613,85 L619,84 L624,83 L630,82 L635,81 L641,81 L646,81 L652,81 L657,81 L663,81 L668,82 L673,83 L679,84 L684,85 L690,86 L695,88 L700,89 L705,92 L710,94 L715,96 L720,98 L726,101 L730,104 L735,107 L739,110 L744,114 L749,117 L753,121 L757,125 L762,129 L765,133 L769,137 L773,142 L777,147 L780,151 L784,156 L787,161 L790,166 L792,171 L795,175 L796,179 L798,182 L799,194 L799,217 L798,249 L796,294 L790,330 L779,362 L762,388 L739,411 L722,427 L710,439Z" fill="url(#cello)" stroke="#f3c566" stroke-width="7" stroke-linejoin="round"/>
<path d="M814,1250 L812,1255 L809,1260 L807,1265 L804,1270 L800,1275 L797,1279 L794,1284 L791,1288 L787,1293 L783,1297 L779,1301 L775,1305 L771,1309 L766,1312 L762,1316 L758,1319 L753,1322 L749,1325 L746,1327 L743,1328 L741,1329 L728,1327 L701,1322 L663,1313 L607,1300 L567,1284 L536,1263 L517,1239 L506,1207 L499,1185 L494,1169 L491,1160 L492,1156 L492,1153 L493,1148 L493,1143 L495,1137 L496,1132 L497,1126 L499,1121 L501,1115 L503,1110 L505,1105 L507,1100 L510,1094 L512,1089 L515,1084 L518,1080 L521,1074 L524,1070 L527,1066 L530,1062 L533,1059 L543,1054 L561,1047 L587,1039 L624,1029 L654,1023 L683,1021 L708,1023 L734,1029 L752,1035 L765,1039 L773,1043 L776,1046 L780,1049 L783,1053 L787,1056 L791,1061 L794,1065 L797,1070 L800,1074 L804,1080 L807,1084 L809,1089 L812,1094 L815,1100 L817,1104 L818,1108 L820,1111 L821,1114 L821,1124 L821,1141 L820,1164 L819,1198 L818,1222 L816,1240Z" fill="url(#cello)" stroke="#f3c566" stroke-width="7" stroke-linejoin="round"/>
<path d="M1330,1293 L1326,1295 L1322,1296 L1317,1298 L1312,1300 L1306,1302 L1300,1304 L1294,1305 L1288,1306 L1282,1308 L1277,1308 L1274,1309 L1271,1309 L1270,1309 L1262,1307 L1245,1303 L1221,1297 L1185,1288 L1161,1282 L1145,1278 L1137,1276 L1136,1275 L1134,1274 L1131,1272 L1128,1269 L1123,1265 L1119,1261 L1114,1257 L1110,1253 L1106,1248 L1103,1244 L1100,1241 L1098,1238 L1096,1236 L1093,1226 L1090,1208 L1085,1183 L1079,1146 L1078,1116 L1083,1087 L1092,1061 L1108,1035 L1119,1017 L1127,1004 L1131,998 L1133,997 L1135,995 L1138,993 L1142,990 L1148,987 L1153,984 L1158,981 L1163,978 L1169,976 L1174,973 L1180,971 L1185,969 L1192,967 L1197,966 L1203,964 L1209,963 L1216,962 L1221,961 L1227,960 L1233,960 L1240,959 L1246,959 L1252,959 L1258,959 L1264,960 L1270,960 L1276,961 L1282,962 L1288,963 L1294,964 L1300,965 L1305,967 L1310,969 L1319,977 L1333,995 L1351,1019 L1376,1054 L1388,1089 L1390,1129 L1382,1171 L1362,1222 L1348,1257 L1336,1281Z" fill="url(#cello)" stroke="#f3c566" stroke-width="7" stroke-linejoin="round"/>
<path d="M1040,504 L1040,507 L1038,514 L1033,526 L1027,543 L1017,567 L1010,584 L1004,597 L1000,604 L997,607 L994,610 L991,613 L988,616 L985,619 L973,623 L951,627 L922,632 L879,638 L850,643 L829,645 L820,647 L819,646 L817,645 L814,644 L811,642 L805,640 L801,638 L796,635 L792,633 L787,629 L783,627 L779,624 L775,620 L771,617 L767,613 L764,610 L760,606 L756,602 L753,598 L750,594 L747,590 L744,586 L741,581 L738,577 L736,573 L734,568 L731,563 L729,558 L728,554 L726,549 L724,544 L723,539 L722,534 L721,529 L720,524 L719,519 L719,514 L718,508 L718,504 L718,498 L718,494 L719,488 L719,483 L720,478 L721,473 L722,468 L723,463 L724,458 L726,453 L728,448 L729,444 L730,442 L731,440 L731,439 L735,435 L744,426 L757,413 L777,393 L802,383 L838,381 L881,387 L939,401 L979,412 L1007,422 L1022,428 L1024,434 L1027,438 L1029,443 L1031,448 L1032,453 L1034,458 L1035,463 L1036,468 L1038,473 L1038,478 L1039,483 L1040,488 L1040,494 L1040,498 L1040,501Z" fill="url(#cello)" stroke="#f3c566" stroke-width="7" stroke-linejoin="round"/>
<path d="M901,915 L900,915 L899,915 L896,915 L892,914 L887,913 L882,912 L878,911 L873,910 L869,908 L860,899 L846,881 L827,855 L801,816 L784,790 L772,770 L767,759 L767,755 L767,751 L768,747 L769,743 L770,738 L771,733 L772,728 L773,724 L775,719 L777,715 L779,710 L781,706 L783,701 L785,697 L788,693 L791,689 L794,685 L796,681 L799,677 L802,674 L806,670 L809,667 L812,663 L815,661 L819,658 L830,655 L850,651 L879,646 L920,640 L948,636 L967,633 L976,632 L977,632 L978,633 L981,634 L984,636 L989,638 L994,640 L998,643 L1002,645 L1007,648 L1010,650 L1013,653 L1016,655 L1019,657 L1023,661 L1028,667 L1034,674 L1043,685 L1047,702 L1048,727 L1046,760 L1040,806 L1029,839 L1010,866 L985,885 L949,898 L925,907 L909,913Z" fill="url(#cello)" stroke="#f3c566" stroke-width="7" stroke-linejoin="round"/>
<ellipse cx="780" cy="200" rx="35" ry="80" transform="rotate(-30 780 200)" fill="#bfaee0"/>
<path d="M1075.6,351.6C1072.8,358.2 1058.1,358.8 1050.8,364.3C1043.4,369.8 1038.7,383.7 1031.6,384.6C1024.5,385.5 1016.6,373.1 1008.2,369.5C999.7,365.9 985.3,368.7 981.0,363.0C976.7,357.3 983.5,344.3 982.4,335.2C981.3,326.1 971.6,315.0 974.4,308.4C977.2,301.8 991.9,301.2 999.2,295.7C1006.6,290.2 1011.3,276.3 1018.4,275.4C1025.5,274.5 1033.4,286.9 1041.8,290.5C1050.3,294.1 1064.7,291.3 1069.0,297.0C1073.3,302.7 1066.5,315.7 1067.6,324.8C1068.7,333.9 1078.4,345.0 1075.6,351.6Z" fill="#8f86d2" stroke="#5f66c2" stroke-width="6"/><ellipse cx="1029" cy="333" rx="25" ry="21" fill="#c4c6ee"/>
<ellipse cx="1395" cy="285" rx="30" ry="75" transform="rotate(10 1395 285)" fill="#bfaee0"/>
<ellipse cx="720" cy="490" rx="30" ry="80" transform="rotate(5 720 490)" fill="#bfaee0"/>
<ellipse cx="550" cy="650" rx="90" ry="30" transform="rotate(0 550 650)" fill="#bfaee0"/>
<path d="M1221.8,719.3C1214.1,716.9 1211.6,700.5 1204.6,692.9C1197.6,685.4 1181.4,681.7 1179.6,673.9C1177.8,666.0 1190.7,655.7 1193.8,645.8C1196.8,635.9 1191.9,620.1 1197.8,614.6C1203.7,609.1 1219.1,615.2 1229.2,612.9C1239.2,610.6 1250.5,598.4 1258.2,600.7C1265.9,603.1 1268.4,619.5 1275.4,627.1C1282.4,634.6 1298.6,638.3 1300.4,646.1C1302.2,654.0 1289.3,664.3 1286.2,674.2C1283.2,684.1 1288.1,699.9 1282.2,705.4C1276.3,710.9 1260.9,704.8 1250.8,707.1C1240.8,709.4 1229.5,721.6 1221.8,719.3Z" fill="#8f86d2" stroke="#5f66c2" stroke-width="6"/><ellipse cx="1243" cy="664" rx="28" ry="24" fill="#c4c6ee"/>
<ellipse cx="1565" cy="500" rx="30" ry="80" transform="rotate(-10 1565 500)" fill="#bfaee0"/>
<ellipse cx="985" cy="880" rx="80" ry="33" transform="rotate(-30 985 880)" fill="#bfaee0"/>
<path d="M1172.8,954.6C1168.3,960.1 1154.0,956.8 1145.4,960.0C1136.8,963.3 1128.5,975.4 1121.4,974.3C1114.4,973.2 1110.1,959.1 1103.0,953.4C1095.9,947.6 1081.2,946.4 1078.7,939.7C1076.1,933.1 1086.2,922.4 1087.6,913.3C1089.1,904.3 1082.7,891.0 1087.2,885.4C1091.7,879.9 1106.0,883.2 1114.6,880.0C1123.2,876.7 1131.5,864.6 1138.6,865.7C1145.6,866.8 1149.9,880.9 1157.0,886.6C1164.1,892.4 1178.8,893.6 1181.3,900.3C1183.9,906.9 1173.8,917.6 1172.4,926.7C1170.9,935.7 1177.3,949.0 1172.8,954.6Z" fill="#8f86d2" stroke="#5f66c2" stroke-width="6"/><ellipse cx="1136" cy="916" rx="25" ry="21" fill="#c4c6ee"/>
<ellipse cx="540" cy="1090" rx="70" ry="40" transform="rotate(0 540 1090)" fill="#bfaee0"/>
<ellipse cx="215" cy="1190" rx="50" ry="70" transform="rotate(30 215 1190)" fill="#bfaee0"/>
<ellipse cx="600" cy="1210" rx="70" ry="30" transform="rotate(10 600 1210)" fill="#bfaee0"/>
<path d="M697.3,1294.5C690.9,1295.4 683.4,1284.3 675.7,1281.3C667.9,1278.2 654.9,1281.2 650.8,1276.1C646.8,1271.0 652.6,1259.0 651.4,1250.7C650.2,1242.5 641.1,1232.7 643.5,1226.6C645.9,1220.6 659.2,1219.6 665.8,1214.4C672.3,1209.3 676.2,1196.5 682.7,1195.5C689.1,1194.6 696.6,1205.7 704.3,1208.7C712.1,1211.8 725.1,1208.8 729.2,1213.9C733.2,1219.0 727.4,1231.0 728.6,1239.3C729.8,1247.5 738.9,1257.3 736.5,1263.4C734.1,1269.4 720.8,1270.4 714.2,1275.6C707.7,1280.7 703.8,1293.5 697.3,1294.5Z" fill="#8f86d2" stroke="#5f66c2" stroke-width="6"/><ellipse cx="692" cy="1247" rx="22" ry="19" fill="#c4c6ee"/>
<ellipse cx="1530" cy="1130" rx="75" ry="40" transform="rotate(0 1530 1130)" fill="#bfaee0"/>
<ellipse cx="1215" cy="1240" rx="70" ry="35" transform="rotate(0 1215 1240)" fill="#bfaee0"/>
<ellipse cx="810" cy="1340" rx="25" ry="25" transform="rotate(0 810 1340)" fill="#bfaee0"/>
<ellipse cx="920" cy="1050" rx="50" ry="25" transform="rotate(-20 920 1050)" fill="#bfaee0"/>
<g fill="none" stroke="#bf3a2b" stroke-width="12" stroke-linecap="round">
<path d="M512,340 C480,200 560,110 680,100 C740,100 790,130 830,180"/>
<path d="M1340,100 C1230,170 1130,260 1110,370 C1090,480 1080,560 1020,620 C985,650 945,660 905,662"/>
<path d="M900,160 C980,170 1050,220 1075,300"/>
<path d="M320,510 C255,570 250,650 312,742"/>
<path d="M758,702 C650,700 560,760 510,860 C470,950 480,1020 468,1085"/>
<path d="M110,1080 C150,1140 260,1150 380,1110 C420,1100 440,1090 452,1080"/>
<path d="M700,990 C790,1010 830,1100 800,1200 C770,1290 680,1340 560,1362 C500,1378 450,1410 420,1452"/>
<path d="M1010,1080 C1040,980 1200,950 1330,1000 C1450,1050 1500,1150 1462,1250 C1432,1310 1382,1330 1340,1342"/>
<path d="M1010,1080 C980,1200 1000,1330 1080,1400 C1150,1450 1250,1470 1312,1492"/>
<path d="M1300,1270 C1290,1340 1200,1390 1130,1402"/>
<path d="M1500,380 C1530,430 1520,500 1480,560 C1400,650 1310,720 1300,820 C1290,900 1340,940 1400,950 C1480,940 1560,900 1622,850"/>
<path d="M810,1592 C820,1500 870,1440 960,1430 C1020,1425 1060,1410 1092,1400"/>
</g>
<path d="M631.1,252.0C628.3,258.1 614.3,258.3 607.2,263.2C600.1,268.2 595.2,281.2 588.5,281.8C581.8,282.4 574.7,270.4 566.8,266.7C559.0,263.1 545.3,265.3 541.4,259.8C537.5,254.3 544.3,242.1 543.6,233.5C542.8,224.9 534.0,214.1 536.9,208.0C539.7,201.9 553.7,201.7 560.8,196.8C567.9,191.8 572.8,178.8 579.5,178.2C586.2,177.6 593.3,189.6 601.2,193.3C609.0,196.9 622.7,194.7 626.6,200.2C630.5,205.7 623.7,217.9 624.4,226.5C625.2,235.1 634.0,245.9 631.1,252.0Z" fill="#8f86d2" stroke="#5f66c2" stroke-width="6"/><ellipse cx="583" cy="233" rx="23" ry="20" fill="#c4c6ee"/>
<path d="M768.1,312.2C761.4,311.1 757.6,297.7 751.0,292.1C744.3,286.6 730.5,285.2 728.2,278.9C725.8,272.5 735.6,262.6 737.0,254.0C738.5,245.5 732.8,232.8 737.1,227.6C741.4,222.5 754.9,225.9 763.1,222.9C771.2,219.9 779.3,208.6 785.9,209.8C792.6,210.9 796.4,224.3 803.0,229.9C809.7,235.4 823.5,236.8 825.8,243.1C828.2,249.5 818.4,259.4 817.0,268.0C815.5,276.5 821.2,289.2 816.9,294.4C812.6,299.5 799.1,296.1 790.9,299.1C782.8,302.1 774.7,313.4 768.1,312.2Z" fill="#8f86d2" stroke="#5f66c2" stroke-width="6"/><ellipse cx="773" cy="267" rx="23" ry="20" fill="#c4c6ee"/>
<path d="M642.9,388.4C640.0,394.5 626.1,394.5 619.0,399.4C611.9,404.3 606.8,417.3 600.1,417.8C593.4,418.4 586.4,406.3 578.6,402.6C570.7,398.9 557.0,401.0 553.2,395.5C549.3,389.9 556.3,377.8 555.6,369.2C554.9,360.6 546.1,349.7 549.1,343.6C552.0,337.5 565.9,337.5 573.0,332.6C580.1,327.7 585.2,314.7 591.9,314.2C598.6,313.6 605.6,325.7 613.4,329.4C621.3,333.1 635.0,331.0 638.8,336.5C642.7,342.1 635.7,354.2 636.4,362.8C637.1,371.4 645.9,382.3 642.9,388.4Z" fill="#8f86d2" stroke="#5f66c2" stroke-width="6"/><ellipse cx="597" cy="362" rx="23" ry="20" fill="#c4c6ee"/>
<path d="M660.1,437.6C658.7,430.9 669.8,422.5 672.5,414.3C675.2,406.0 671.4,392.7 676.4,388.2C681.4,383.7 694.3,389.0 702.8,387.3C711.3,385.5 720.9,375.5 727.3,377.6C733.7,379.7 735.5,393.5 741.3,400.0C747.0,406.5 760.5,409.8 761.9,416.4C763.3,423.1 752.2,431.5 749.5,439.7C746.8,448.0 750.6,461.3 745.6,465.8C740.6,470.3 727.7,465.0 719.2,466.7C710.7,468.5 701.1,478.5 694.7,476.4C688.3,474.3 686.5,460.5 680.7,454.0C675.0,447.5 661.5,444.2 660.1,437.6Z" fill="#8f86d2" stroke="#5f66c2" stroke-width="6"/><ellipse cx="710" cy="430" rx="23" ry="20" fill="#c4c6ee"/>
<path d="M1028.8,471.5C1027.0,464.9 1037.6,455.9 1039.8,447.5C1042.1,439.1 1037.5,426.0 1042.2,421.2C1047.0,416.4 1060.1,421.1 1068.5,418.8C1076.9,416.6 1085.9,406.0 1092.5,407.8C1099.0,409.5 1101.6,423.2 1107.7,429.3C1113.8,435.5 1127.5,438.0 1129.2,444.5C1131.0,451.1 1120.4,460.1 1118.2,468.5C1115.9,476.9 1120.5,490.0 1115.8,494.8C1111.0,499.6 1097.9,494.9 1089.5,497.2C1081.1,499.4 1072.1,510.0 1065.5,508.2C1059.0,506.5 1056.4,492.8 1050.3,486.7C1044.2,480.5 1030.5,478.0 1028.8,471.5Z" fill="#8f86d2" stroke="#5f66c2" stroke-width="6"/><ellipse cx="1083" cy="461" rx="23" ry="20" fill="#c4c6ee"/>
<path d="M1160.5,539.3C1157.3,533.4 1165.3,522.0 1165.4,513.3C1165.6,504.7 1157.9,493.1 1161.4,487.3C1164.9,481.5 1178.7,482.8 1186.3,478.5C1193.9,474.3 1200.1,461.9 1206.8,462.0C1213.6,462.1 1219.4,474.8 1226.8,479.2C1234.3,483.7 1248.2,482.8 1251.5,488.7C1254.7,494.6 1246.7,506.0 1246.6,514.7C1246.4,523.3 1254.1,534.9 1250.6,540.7C1247.1,546.5 1233.3,545.2 1225.7,549.5C1218.1,553.7 1211.9,566.1 1205.2,566.0C1198.4,565.9 1192.6,553.2 1185.2,548.8C1177.7,544.3 1163.8,545.2 1160.5,539.3Z" fill="#8f86d2" stroke="#5f66c2" stroke-width="6"/><ellipse cx="1204" cy="517" rx="23" ry="20" fill="#c4c6ee"/>
<path d="M1166.3,724.0C1160.6,720.4 1162.2,706.6 1158.1,698.9C1154.1,691.3 1141.8,684.8 1142.0,678.0C1142.3,671.3 1155.0,665.7 1159.7,658.4C1164.3,651.1 1163.7,637.2 1169.7,634.0C1175.7,630.9 1186.9,639.1 1195.5,639.5C1204.2,639.8 1216.0,632.4 1221.7,636.0C1227.4,639.6 1225.8,653.4 1229.9,661.1C1233.9,668.7 1246.2,675.2 1246.0,682.0C1245.7,688.7 1233.0,694.3 1228.3,701.6C1223.7,708.9 1224.3,722.8 1218.3,726.0C1212.3,729.1 1201.1,720.9 1192.5,720.5C1183.8,720.2 1172.0,727.6 1166.3,724.0Z" fill="#8f86d2" stroke="#5f66c2" stroke-width="6"/><ellipse cx="1199" cy="674" rx="23" ry="20" fill="#c4c6ee"/>
<path d="M1304.4,727.0C1299.9,732.0 1286.5,728.0 1278.3,730.7C1270.0,733.3 1261.5,744.2 1254.9,742.8C1248.3,741.3 1245.1,727.8 1238.7,722.0C1232.3,716.1 1218.5,714.2 1216.4,707.8C1214.4,701.3 1224.5,691.8 1226.4,683.3C1228.2,674.8 1223.0,662.0 1227.6,657.0C1232.1,652.0 1245.5,656.0 1253.7,653.3C1262.0,650.7 1270.5,639.8 1277.1,641.2C1283.7,642.7 1286.9,656.2 1293.3,662.0C1299.7,667.9 1313.5,669.8 1315.6,676.2C1317.6,682.7 1307.5,692.2 1305.6,700.7C1303.8,709.2 1309.0,722.0 1304.4,727.0Z" fill="#8f86d2" stroke="#5f66c2" stroke-width="6"/><ellipse cx="1267" cy="698" rx="23" ry="20" fill="#c4c6ee"/>
<path d="M662.1,970.8C659.5,977.1 645.6,977.9 638.7,983.2C631.9,988.4 627.5,1001.7 620.8,1002.5C614.1,1003.4 606.5,991.8 598.5,988.5C590.5,985.2 576.9,988.1 572.8,982.7C568.7,977.3 574.9,964.9 573.8,956.3C572.7,947.7 563.4,937.4 565.9,931.2C568.5,924.9 582.4,924.1 589.3,918.8C596.1,913.6 600.5,900.3 607.2,899.5C613.9,898.6 621.5,910.2 629.5,913.5C637.5,916.8 651.1,913.9 655.2,919.3C659.3,924.7 653.1,937.1 654.2,945.7C655.3,954.3 664.6,964.6 662.1,970.8Z" fill="#8f86d2" stroke="#5f66c2" stroke-width="6"/><ellipse cx="618" cy="956" rx="23" ry="20" fill="#c4c6ee"/>
<path d="M793.8,977.7C788.7,982.2 775.9,976.9 767.4,978.7C758.9,980.5 749.3,990.5 742.9,988.4C736.5,986.3 734.6,972.6 728.8,966.1C723.0,959.7 709.5,956.4 708.1,949.8C706.7,943.1 717.8,934.7 720.4,926.4C723.1,918.2 719.2,904.8 724.2,900.3C729.3,895.8 742.1,901.1 750.6,899.3C759.1,897.5 768.7,887.5 775.1,889.6C781.5,891.7 783.4,905.4 789.2,911.9C795.0,918.3 808.5,921.6 809.9,928.2C811.3,934.9 800.2,943.3 797.6,951.6C794.9,959.8 798.8,973.2 793.8,977.7Z" fill="#8f86d2" stroke="#5f66c2" stroke-width="6"/><ellipse cx="759" cy="940" rx="23" ry="20" fill="#c4c6ee"/>
<path d="M433.0,1079.3C430.7,1072.9 440.5,1063.1 442.1,1054.5C443.7,1046.0 438.1,1033.3 442.5,1028.2C446.9,1023.0 460.3,1026.6 468.5,1023.7C476.7,1020.9 484.9,1009.6 491.6,1010.9C498.2,1012.1 501.8,1025.6 508.4,1031.2C515.0,1036.8 528.8,1038.3 531.0,1044.7C533.3,1051.1 523.5,1060.9 521.9,1069.5C520.3,1078.0 525.9,1090.7 521.5,1095.8C517.1,1101.0 503.7,1097.4 495.5,1100.3C487.3,1103.1 479.1,1114.4 472.4,1113.1C465.8,1111.9 462.2,1098.4 455.6,1092.8C449.0,1087.2 435.2,1085.7 433.0,1079.3Z" fill="#8f86d2" stroke="#5f66c2" stroke-width="6"/><ellipse cx="481" cy="1066" rx="23" ry="20" fill="#c4c6ee"/>
<path d="M524.9,1142.9C520.8,1137.5 527.0,1125.1 525.8,1116.5C524.6,1107.9 515.3,1097.6 517.8,1091.4C520.4,1085.1 534.3,1084.3 541.1,1079.0C548.0,1073.6 552.2,1060.4 558.9,1059.5C565.6,1058.6 573.3,1070.2 581.3,1073.4C589.3,1076.7 602.9,1073.8 607.1,1079.1C611.2,1084.5 605.0,1096.9 606.2,1105.5C607.4,1114.1 616.7,1124.4 614.2,1130.6C611.6,1136.9 597.7,1137.7 590.9,1143.0C584.0,1148.4 579.8,1161.6 573.1,1162.5C566.4,1163.4 558.7,1151.8 550.7,1148.6C542.7,1145.3 529.1,1148.2 524.9,1142.9Z" fill="#8f86d2" stroke="#5f66c2" stroke-width="6"/><ellipse cx="563" cy="1116" rx="23" ry="20" fill="#c4c6ee"/>
<path d="M669.6,1187.6C662.9,1188.4 655.3,1176.8 647.3,1173.4C639.3,1170.1 625.7,1172.9 621.6,1167.5C617.5,1162.1 623.9,1149.7 622.8,1141.1C621.7,1132.5 612.4,1122.2 615.0,1115.9C617.6,1109.7 631.5,1109.0 638.4,1103.7C645.3,1098.5 649.7,1085.3 656.4,1084.4C663.1,1083.6 670.7,1095.2 678.7,1098.6C686.7,1101.9 700.3,1099.1 704.4,1104.5C708.5,1109.9 702.1,1122.3 703.2,1130.9C704.3,1139.5 713.6,1149.8 711.0,1156.1C708.4,1162.3 694.5,1163.0 687.6,1168.3C680.7,1173.5 676.3,1186.7 669.6,1187.6Z" fill="#8f86d2" stroke="#5f66c2" stroke-width="6"/><ellipse cx="665" cy="1137" rx="23" ry="20" fill="#c4c6ee"/>
<path d="M786.8,1127.8C786.2,1134.5 773.1,1139.3 768.1,1146.4C763.1,1153.5 762.9,1167.4 756.8,1170.2C750.6,1173.1 739.9,1164.2 731.3,1163.4C722.7,1162.6 710.5,1169.4 705.0,1165.5C699.5,1161.6 701.8,1147.9 698.2,1140.0C694.5,1132.1 682.6,1125.0 683.2,1118.2C683.8,1111.5 696.9,1106.7 701.9,1099.6C706.9,1092.5 707.1,1078.6 713.2,1075.8C719.4,1072.9 730.1,1081.8 738.7,1082.6C747.3,1083.4 759.5,1076.6 765.0,1080.5C770.5,1084.4 768.2,1098.1 771.8,1106.0C775.5,1113.9 787.4,1121.0 786.8,1127.8Z" fill="#8f86d2" stroke="#5f66c2" stroke-width="6"/><ellipse cx="739" cy="1126" rx="23" ry="20" fill="#c4c6ee"/>
<path d="M846.0,1219.4C841.5,1224.5 828.1,1220.7 819.9,1223.4C811.7,1226.2 803.3,1237.3 796.7,1236.0C790.1,1234.6 786.7,1221.2 780.2,1215.4C773.7,1209.7 759.9,1208.0 757.7,1201.6C755.6,1195.2 765.5,1185.5 767.2,1177.0C769.0,1168.5 763.5,1155.7 768.0,1150.6C772.5,1145.5 785.9,1149.3 794.1,1146.6C802.3,1143.8 810.7,1132.7 817.3,1134.0C823.9,1135.4 827.3,1148.8 833.8,1154.6C840.3,1160.3 854.1,1162.0 856.3,1168.4C858.4,1174.8 848.5,1184.5 846.8,1193.0C845.0,1201.5 850.5,1214.3 846.0,1219.4Z" fill="#8f86d2" stroke="#5f66c2" stroke-width="6"/><ellipse cx="802" cy="1187" rx="23" ry="20" fill="#c4c6ee"/>
<path d="M495.3,1207.8C492.3,1201.7 500.9,1190.8 501.5,1182.2C502.1,1173.5 495.1,1161.5 498.9,1155.9C502.7,1150.3 516.4,1152.3 524.2,1148.5C532.0,1144.7 538.9,1132.7 545.6,1133.1C552.4,1133.6 557.5,1146.5 564.7,1151.4C571.9,1156.2 585.8,1156.1 588.7,1162.2C591.7,1168.3 583.1,1179.2 582.5,1187.8C581.9,1196.5 588.9,1208.5 585.1,1214.1C581.3,1219.7 567.6,1217.7 559.8,1221.5C552.0,1225.3 545.1,1237.3 538.4,1236.9C531.6,1236.4 526.5,1223.5 519.3,1218.6C512.1,1213.8 498.2,1213.9 495.3,1207.8Z" fill="#8f86d2" stroke="#5f66c2" stroke-width="6"/><ellipse cx="538" cy="1180" rx="23" ry="20" fill="#c4c6ee"/>
<path d="M573.5,1291.6C569.2,1286.3 575.2,1273.8 573.9,1265.2C572.6,1256.7 563.1,1246.5 565.5,1240.2C568.0,1233.9 581.8,1232.8 588.6,1227.4C595.3,1222.0 599.3,1208.7 606.0,1207.6C612.7,1206.6 620.6,1218.0 628.7,1221.2C636.7,1224.3 650.3,1221.1 654.5,1226.4C658.8,1231.7 652.8,1244.2 654.1,1252.8C655.4,1261.3 664.9,1271.5 662.5,1277.8C660.0,1284.1 646.2,1285.2 639.4,1290.6C632.7,1296.0 628.7,1309.3 622.0,1310.4C615.3,1311.4 607.4,1300.0 599.3,1296.8C591.3,1293.7 577.7,1296.9 573.5,1291.6Z" fill="#8f86d2" stroke="#5f66c2" stroke-width="6"/><ellipse cx="615" cy="1262" rx="23" ry="20" fill="#c4c6ee"/>
<path d="M726.1,1281.3C721.6,1286.4 708.2,1282.6 700.0,1285.4C691.8,1288.2 683.5,1299.3 676.8,1298.0C670.2,1296.7 666.8,1283.2 660.2,1277.5C653.7,1271.8 639.9,1270.1 637.8,1263.7C635.6,1257.3 645.5,1247.6 647.2,1239.1C648.9,1230.6 643.5,1217.8 647.9,1212.7C652.4,1207.6 665.8,1211.4 674.0,1208.6C682.2,1205.8 690.5,1194.7 697.2,1196.0C703.8,1197.3 707.2,1210.8 713.8,1216.5C720.3,1222.2 734.1,1223.9 736.2,1230.3C738.4,1236.7 728.5,1246.4 726.8,1254.9C725.1,1263.4 730.5,1276.2 726.1,1281.3Z" fill="#8f86d2" stroke="#5f66c2" stroke-width="6"/><ellipse cx="683" cy="1246" rx="23" ry="20" fill="#c4c6ee"/>
<path d="M574.3,1365.0C568.6,1361.4 570.2,1347.6 566.1,1339.9C562.1,1332.2 549.8,1325.8 550.0,1319.0C550.3,1312.2 563.1,1306.7 567.7,1299.4C572.3,1292.0 571.8,1278.1 577.8,1275.0C583.7,1271.8 594.9,1280.1 603.6,1280.5C612.2,1280.8 624.0,1273.4 629.7,1277.0C635.4,1280.6 633.8,1294.4 637.9,1302.1C641.9,1309.8 654.2,1316.2 654.0,1323.0C653.7,1329.8 640.9,1335.3 636.3,1342.6C631.7,1350.0 632.2,1363.9 626.2,1367.0C620.3,1370.2 609.1,1361.9 600.4,1361.5C591.8,1361.2 580.0,1368.6 574.3,1365.0Z" fill="#8f86d2" stroke="#5f66c2" stroke-width="6"/><ellipse cx="598" cy="1316" rx="23" ry="20" fill="#c4c6ee"/>
<path d="M469.4,1326.4C467.0,1320.1 476.6,1310.1 478.0,1301.5C479.4,1292.9 473.4,1280.4 477.7,1275.1C482.0,1269.9 495.5,1273.2 503.6,1270.1C511.7,1267.0 519.7,1255.6 526.3,1256.7C533.0,1257.8 536.9,1271.1 543.6,1276.6C550.4,1282.1 564.2,1283.2 566.6,1289.6C569.0,1295.9 559.4,1305.9 558.0,1314.5C556.6,1323.1 562.6,1335.6 558.3,1340.9C554.0,1346.1 540.5,1342.8 532.4,1345.9C524.3,1349.0 516.3,1360.4 509.7,1359.3C503.0,1358.2 499.1,1344.9 492.4,1339.4C485.6,1333.9 471.8,1332.8 469.4,1326.4Z" fill="#8f86d2" stroke="#5f66c2" stroke-width="6"/><ellipse cx="514" cy="1311" rx="23" ry="20" fill="#c4c6ee"/>
<path d="M1122.4,991.0C1115.6,991.2 1109.3,978.8 1101.6,974.6C1094.0,970.5 1080.2,971.9 1076.7,966.2C1073.1,960.4 1080.7,948.7 1080.5,940.1C1080.2,931.4 1072.1,920.1 1075.3,914.2C1078.5,908.2 1092.4,908.9 1099.8,904.4C1107.2,899.9 1112.9,887.2 1119.6,887.0C1126.4,886.8 1132.7,899.2 1140.4,903.4C1148.0,907.5 1161.8,906.1 1165.3,911.8C1168.9,917.6 1161.3,929.3 1161.5,937.9C1161.8,946.6 1169.9,957.9 1166.7,963.8C1163.5,969.8 1149.6,969.1 1142.2,973.6C1134.8,978.1 1129.1,990.8 1122.4,991.0Z" fill="#8f86d2" stroke="#5f66c2" stroke-width="6"/><ellipse cx="1117" cy="944" rx="23" ry="20" fill="#c4c6ee"/>
<g fill="none" stroke="#7594cc" stroke-width="12" stroke-linecap="round">
</g>
<path d="M545.4,427.1C543.6,432.9 526.3,432.3 520.6,438.4C514.9,444.6 516.8,461.8 511.1,464.0C505.5,466.2 495.2,452.3 486.8,451.6C478.5,451.0 466.2,463.2 461.0,460.2C455.7,457.2 460.2,440.4 455.5,433.5C450.8,426.6 433.5,424.6 432.6,418.6C431.7,412.6 447.6,405.7 450.1,397.7C452.6,389.6 443.4,374.9 447.5,370.5C451.6,366.1 467.0,374.2 474.8,371.1C482.6,368.1 488.4,351.7 494.4,352.2C500.4,352.6 503.6,369.7 510.9,373.9C518.2,378.1 534.5,372.4 537.9,377.4C541.3,382.4 530.1,395.5 531.3,403.8C532.5,412.1 547.2,421.4 545.4,427.1Z" fill="#35b6ad"/>
<circle cx="494" cy="412" r="26" fill="#9be3db"/>
<circle cx="484" cy="420" r="11" fill="#1e9c94"/>
<path d="M1240.4,427.1C1238.6,432.9 1221.3,432.3 1215.6,438.4C1209.9,444.6 1211.8,461.8 1206.1,464.0C1200.5,466.2 1190.2,452.3 1181.8,451.6C1173.5,451.0 1161.2,463.2 1156.0,460.2C1150.7,457.2 1155.2,440.4 1150.5,433.5C1145.8,426.6 1128.5,424.6 1127.6,418.6C1126.7,412.6 1142.6,405.7 1145.1,397.7C1147.6,389.6 1138.4,374.9 1142.5,370.5C1146.6,366.1 1162.0,374.2 1169.8,371.1C1177.6,368.1 1183.4,351.7 1189.4,352.2C1195.4,352.6 1198.6,369.7 1205.9,373.9C1213.2,378.1 1229.5,372.4 1232.9,377.4C1236.3,382.4 1225.1,395.5 1226.3,403.8C1227.5,412.1 1242.2,421.4 1240.4,427.1Z" fill="#35b6ad"/>
<circle cx="1189" cy="412" r="26" fill="#9be3db"/>
<circle cx="1179" cy="420" r="11" fill="#1e9c94"/>
<path d="M1600.4,617.1C1598.6,622.9 1581.3,622.3 1575.6,628.4C1569.9,634.6 1571.8,651.8 1566.1,654.0C1560.5,656.2 1550.2,642.3 1541.8,641.6C1533.5,641.0 1521.2,653.2 1516.0,650.2C1510.7,647.2 1515.2,630.4 1510.5,623.5C1505.8,616.6 1488.5,614.6 1487.6,608.6C1486.7,602.6 1502.6,595.7 1505.1,587.7C1507.6,579.6 1498.4,564.9 1502.5,560.5C1506.6,556.1 1522.0,564.2 1529.8,561.1C1537.6,558.1 1543.4,541.7 1549.4,542.2C1555.4,542.6 1558.6,559.7 1565.9,563.9C1573.2,568.1 1589.5,562.4 1592.9,567.4C1596.3,572.4 1585.1,585.5 1586.3,593.8C1587.5,602.1 1602.2,611.4 1600.4,617.1Z" fill="#35b6ad"/>
<circle cx="1549" cy="602" r="26" fill="#9be3db"/>
<circle cx="1539" cy="610" r="11" fill="#1e9c94"/>
<path d="M905.4,977.1C903.6,982.9 886.3,982.3 880.6,988.4C874.9,994.6 876.8,1011.8 871.1,1014.0C865.5,1016.2 855.2,1002.3 846.8,1001.6C838.5,1001.0 826.2,1013.2 821.0,1010.2C815.7,1007.2 820.2,990.4 815.5,983.5C810.8,976.6 793.5,974.6 792.6,968.6C791.7,962.6 807.6,955.7 810.1,947.7C812.6,939.6 803.4,924.9 807.5,920.5C811.6,916.1 827.0,924.2 834.8,921.1C842.6,918.1 848.4,901.7 854.4,902.2C860.4,902.6 863.6,919.7 870.9,923.9C878.2,928.1 894.5,922.4 897.9,927.4C901.3,932.4 890.1,945.5 891.3,953.8C892.5,962.1 907.2,971.4 905.4,977.1Z" fill="#35b6ad"/>
<circle cx="854" cy="962" r="26" fill="#9be3db"/>
<circle cx="844" cy="970" r="11" fill="#1e9c94"/>
<path d="M225.4,1037.1C223.6,1042.9 206.3,1042.3 200.6,1048.4C194.9,1054.6 196.8,1071.8 191.1,1074.0C185.5,1076.2 175.2,1062.3 166.8,1061.6C158.5,1061.0 146.2,1073.2 141.0,1070.2C135.7,1067.2 140.2,1050.4 135.5,1043.5C130.8,1036.6 113.5,1034.6 112.6,1028.6C111.7,1022.6 127.6,1015.7 130.1,1007.7C132.6,999.6 123.4,984.9 127.5,980.5C131.6,976.1 147.0,984.2 154.8,981.1C162.6,978.1 168.4,961.7 174.4,962.2C180.4,962.6 183.6,979.7 190.9,983.9C198.2,988.1 214.5,982.4 217.9,987.4C221.3,992.4 210.1,1005.5 211.3,1013.8C212.5,1022.1 227.2,1031.4 225.4,1037.1Z" fill="#35b6ad"/>
<circle cx="174" cy="1022" r="26" fill="#9be3db"/>
<circle cx="164" cy="1030" r="11" fill="#1e9c94"/>
<path d="M1485.4,1007.1C1483.6,1012.9 1466.3,1012.3 1460.6,1018.4C1454.9,1024.6 1456.8,1041.8 1451.1,1044.0C1445.5,1046.2 1435.2,1032.3 1426.8,1031.6C1418.5,1031.0 1406.2,1043.2 1401.0,1040.2C1395.7,1037.2 1400.2,1020.4 1395.5,1013.5C1390.8,1006.6 1373.5,1004.6 1372.6,998.6C1371.7,992.6 1387.6,985.7 1390.1,977.7C1392.6,969.6 1383.4,954.9 1387.5,950.5C1391.6,946.1 1407.0,954.2 1414.8,951.1C1422.6,948.1 1428.4,931.7 1434.4,932.2C1440.4,932.6 1443.6,949.7 1450.9,953.9C1458.2,958.1 1474.5,952.4 1477.9,957.4C1481.3,962.4 1470.1,975.5 1471.3,983.8C1472.5,992.1 1487.2,1001.4 1485.4,1007.1Z" fill="#35b6ad"/>
<circle cx="1434" cy="992" r="26" fill="#9be3db"/>
<circle cx="1424" cy="1000" r="11" fill="#1e9c94"/>
<path d="M550.4,1307.1C548.6,1312.9 531.3,1312.3 525.6,1318.4C519.9,1324.6 521.8,1341.8 516.1,1344.0C510.5,1346.2 500.2,1332.3 491.8,1331.6C483.5,1331.0 471.2,1343.2 466.0,1340.2C460.7,1337.2 465.2,1320.4 460.5,1313.5C455.8,1306.6 438.5,1304.6 437.6,1298.6C436.7,1292.6 452.6,1285.7 455.1,1277.7C457.6,1269.6 448.4,1254.9 452.5,1250.5C456.6,1246.1 472.0,1254.2 479.8,1251.1C487.6,1248.1 493.4,1231.7 499.4,1232.2C505.4,1232.6 508.6,1249.7 515.9,1253.9C523.2,1258.1 539.5,1252.4 542.9,1257.4C546.3,1262.4 535.1,1275.5 536.3,1283.8C537.5,1292.1 552.2,1301.4 550.4,1307.1Z" fill="#35b6ad"/>
<circle cx="499" cy="1292" r="26" fill="#9be3db"/>
<circle cx="489" cy="1300" r="11" fill="#1e9c94"/>
<path d="M1180.4,1357.1C1178.6,1362.9 1161.3,1362.3 1155.6,1368.4C1149.9,1374.6 1151.8,1391.8 1146.1,1394.0C1140.5,1396.2 1130.2,1382.3 1121.8,1381.6C1113.5,1381.0 1101.2,1393.2 1096.0,1390.2C1090.7,1387.2 1095.2,1370.4 1090.5,1363.5C1085.8,1356.6 1068.5,1354.6 1067.6,1348.6C1066.7,1342.6 1082.6,1335.7 1085.1,1327.7C1087.6,1319.6 1078.4,1304.9 1082.5,1300.5C1086.6,1296.1 1102.0,1304.2 1109.8,1301.1C1117.6,1298.1 1123.4,1281.7 1129.4,1282.2C1135.4,1282.6 1138.6,1299.7 1145.9,1303.9C1153.2,1308.1 1169.5,1302.4 1172.9,1307.4C1176.3,1312.4 1165.1,1325.5 1166.3,1333.8C1167.5,1342.1 1182.2,1351.4 1180.4,1357.1Z" fill="#35b6ad"/>
<circle cx="1129" cy="1342" r="26" fill="#9be3db"/>
<circle cx="1119" cy="1350" r="11" fill="#1e9c94"/>
<path d="M947.4,518.1C945.6,523.9 928.3,523.3 922.6,529.4C916.9,535.6 918.8,552.8 913.1,555.0C907.5,557.2 897.2,543.3 888.8,542.6C880.5,542.0 868.2,554.2 863.0,551.2C857.7,548.2 862.2,531.4 857.5,524.5C852.8,517.6 835.5,515.6 834.6,509.6C833.7,503.6 849.6,496.7 852.1,488.7C854.6,480.6 845.4,465.9 849.5,461.5C853.6,457.1 869.0,465.2 876.8,462.1C884.6,459.1 890.4,442.7 896.4,443.2C902.4,443.6 905.6,460.7 912.9,464.9C920.2,469.1 936.5,463.4 939.9,468.4C943.3,473.4 932.1,486.5 933.3,494.8C934.5,503.1 949.2,512.4 947.4,518.1Z" fill="#35b6ad"/>
<circle cx="896" cy="503" r="26" fill="#9be3db"/>
<circle cx="886" cy="511" r="11" fill="#1e9c94"/>
</g>
<g transform="translate(1640,940) scale(0.41866)" fill="none" stroke="#6a8cc8" stroke-width="10.5" stroke-linecap="round" filter="url(#soft2)">
<path d="M480,60 C470,140 500,230 560,300"/>
<path d="M580,60 C640,110 680,200 690,300"/>
<path d="M760,110 C790,170 800,230 790,290"/>
<path d="M810,80 C840,130 850,190 840,240"/>
<path d="M920,160 C940,120 980,90 1030,90"/>
<path d="M1120,110 C1060,170 1030,240 1020,320"/>
<path d="M320,290 C320,380 360,450 400,490"/>
<path d="M240,440 C290,470 330,490 370,500"/>
<path d="M230,580 C300,540 360,540 420,545"/>
<path d="M200,610 C210,660 220,700 240,720"/>
<path d="M130,720 C220,720 270,780 310,840 C350,900 410,920 470,920"/>
<path d="M140,990 C150,1040 180,1060 210,1080"/>
<path d="M360,1100 C330,1180 320,1260 370,1320"/>
<path d="M450,1100 C480,1180 520,1260 550,1320"/>
<path d="M660,1290 C665,1320 665,1340 665,1355"/>
<path d="M890,1170 C910,1280 940,1360 1010,1390"/>
<path d="M930,1400 C935,1350 950,1300 975,1270"/>
<path d="M1090,1170 C1140,1200 1180,1240 1220,1300"/>
<path d="M1200,1160 C1250,1180 1280,1200 1300,1220"/>
<path d="M1340,1040 C1400,1060 1450,1080 1480,1140"/>
<path d="M1390,1010 C1440,1015 1490,1025 1530,1035"/>
<path d="M1450,890 C1490,885 1520,880 1550,860"/>
<path d="M1380,780 C1430,770 1470,775 1510,790"/>
<path d="M1350,700 C1400,640 1460,600 1530,580"/>
<path d="M1240,410 C1300,360 1390,340 1480,350"/>
<path d="M1000,640 C1020,560 1080,500 1170,490 C1240,480 1300,470 1330,440"/>
<path d="M1190,670 C1260,690 1340,690 1440,670"/>
<path d="M1060,720 C1120,710 1160,740 1200,780 C1240,810 1290,810 1330,800"/>
<path d="M800,940 C860,900 930,930 980,960 C1010,970 1030,965 1050,940"/>
<path d="M620,420 C600,500 610,580 660,620 C690,640 720,650 745,655"/>
<path d="M545,300 C600,300 640,340 650,400"/>
<path d="M430,800 C500,790 560,810 600,860"/>
<path d="M680,1170 C720,1230 760,1290 780,1350"/>
<path d="M761,344 Q693,328 619,280"/>
<path d="M509,283 Q616,176 660,166"/>
<path d="M700,358 Q642,205 661,132"/>
<path d="M701,331 Q672,242 720,184"/>
<path d="M663,311 Q646,227 636,178"/>
<path d="M791,294 Q735,316 631,283"/>
<path d="M721,347 Q621,336 520,267"/>
<path d="M566,388 Q624,299 679,198"/>
<path d="M695,329 Q619,336 551,313"/>
<path d="M588,346 Q635,263 688,182"/>
<path d="M590,318 Q594,210 583,100"/>
<path d="M624,894 Q715,898 833,865"/>
<path d="M704,1074 Q633,970 593,912"/>
<path d="M632,1123 Q686,1000 772,957"/>
<path d="M713,937 Q616,934 472,917"/>
<path d="M596,983 Q578,944 457,856"/>
<path d="M796,1081 Q708,1034 566,933"/>
<path d="M738,1111 Q719,1036 644,922"/>
<path d="M608,1141 Q607,1063 631,896"/>
<path d="M475,1017 Q612,949 735,932"/>
<path d="M730,1026 Q687,888 607,827"/>
<path d="M545,976 Q662,946 776,944"/>
<path d="M717,1107 Q648,1052 564,990"/>
<path d="M499,1022 Q549,980 684,967"/>
<path d="M424,1017 Q530,994 634,930"/>
<path d="M680,975 Q671,847 638,801"/>
<path d="M471,1009 Q564,972 626,987"/>
<path d="M1139,563 Q1041,465 1011,443"/>
<path d="M942,541 Q1067,485 1108,448"/>
<path d="M982,631 Q1045,551 1061,463"/>
<path d="M1169,545 Q1132,529 1053,521"/>
<path d="M1050,630 Q1142,543 1165,490"/>
<path d="M1061,481 Q1155,464 1179,457"/>
<path d="M1017,588 Q1052,528 1072,455"/>
<path d="M995,605 Q1107,547 1199,541"/>
<path d="M1052,607 Q1105,598 1214,531"/>
</g>
<text x="1126.6" y="115.0" font-size="105.6" textLength="557.5" lengthAdjust="spacingAndGlyphs" filter="url(#tsoft)">Overnutrition</text>
<text x="1006.0" y="253.3" font-size="105.6" textLength="796.0" lengthAdjust="spacingAndGlyphs" filter="url(#tsoft)">Sedentary lifestyle</text>
<text x="946.0" y="388.3" font-size="105.6" textLength="915.0" lengthAdjust="spacingAndGlyphs" filter="url(#tsoft)">Genetic susceptibility</text>
<text x="157.9" y="741.3" font-size="73.8" textLength="142.2" lengthAdjust="spacingAndGlyphs" filter="url(#tsoft)">Lean</text>
<text x="2727.4" y="703.3" font-size="73.8" textLength="177.6" lengthAdjust="spacingAndGlyphs" filter="url(#tsoft)">Obese</text>
<text x="674.0" y="773.3" font-size="73.8" textLength="385.0" lengthAdjust="spacingAndGlyphs" filter="url(#tsoft)">Lean adipose</text>
<text x="780.0" y="857.3" font-size="73.8" textLength="175.0" lengthAdjust="spacingAndGlyphs" filter="url(#tsoft)">tissue</text>
<text x="1887.2" y="773.3" font-size="73.8" textLength="177.0" lengthAdjust="spacingAndGlyphs" filter="url(#tsoft)">Obese</text>
<text x="1765.2" y="857.3" font-size="73.8" textLength="420.0" lengthAdjust="spacingAndGlyphs" filter="url(#tsoft)">adipose tissue</text>
<text x="1301.6" y="1009.9" font-size="63.5" textLength="171.4" lengthAdjust="spacingAndGlyphs" filter="url(#tsoft)">Weight</text>
<text x="1331.8" y="1069.7" font-size="63.5" textLength="109.3" lengthAdjust="spacingAndGlyphs" filter="url(#tsoft)">Gain</text>
<text x="559.0" y="1658.3" font-size="88.1" textLength="629.5" lengthAdjust="spacingAndGlyphs" filter="url(#tsoft)">Anti-inflammation</text>
<text x="656.8" y="1792.3" font-size="88.1" textLength="436.2" lengthAdjust="spacingAndGlyphs" filter="url(#tsoft)">Antioxidants</text>
<text x="570.0" y="1924.8" font-size="88.1" textLength="602.0" lengthAdjust="spacingAndGlyphs" filter="url(#tsoft)">Insulin sensitivity</text>
<text x="642.0" y="2061.3" font-size="88.1" textLength="463.0" lengthAdjust="spacingAndGlyphs" filter="url(#tsoft)">Angiogenesis</text>
<text x="1746.3" y="1658.3" font-size="88.1" textLength="460.7" lengthAdjust="spacingAndGlyphs" filter="url(#tsoft)">Inflammation</text>
<text x="1702.0" y="1792.3" font-size="88.1" textLength="550.0" lengthAdjust="spacingAndGlyphs" filter="url(#tsoft)">Oxidative stress</text>
<text x="1670.0" y="1925.3" font-size="88.1" textLength="613.1" lengthAdjust="spacingAndGlyphs" filter="url(#tsoft)">Insulin resistance</text>
<text x="1501.0" y="2060.3" font-size="88.1" textLength="953.0" lengthAdjust="spacingAndGlyphs" filter="url(#tsoft)">Dysfunctional angiogenesis</text>
</svg></body></html>
